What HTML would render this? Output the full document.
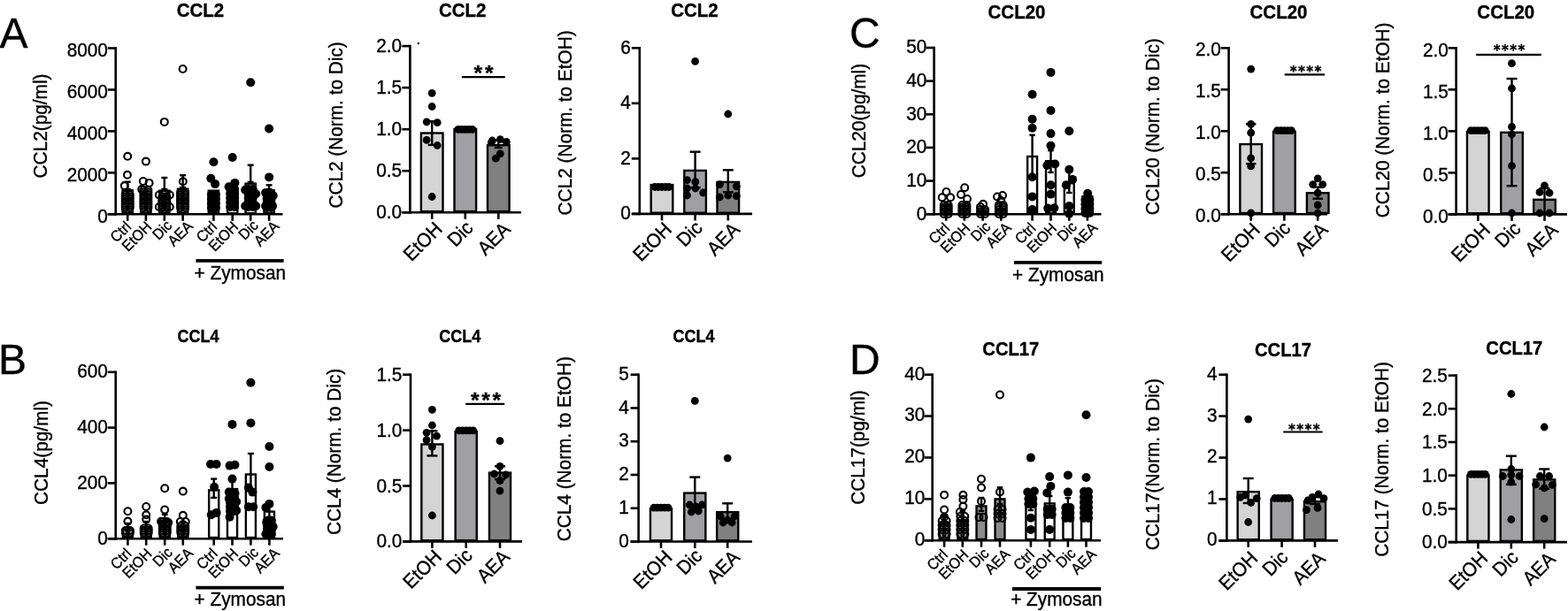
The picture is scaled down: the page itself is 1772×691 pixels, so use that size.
<!DOCTYPE html>
<html><head><meta charset="utf-8"><style>
html,body{margin:0;padding:0;background:#fff;}
svg{display:block;}
text{font-family:"Liberation Sans", Arial, Helvetica, sans-serif;fill:#000;stroke:#000;stroke-width:0.35px;}
</style></head><body>
<svg width="1772" height="691" viewBox="0 0 1772 691">
<rect width="1772" height="691" fill="#fff"/>
<text x="-0.50" y="54.00" font-size="48" text-anchor="start">A</text>
<text x="-2.00" y="422.50" font-size="48" text-anchor="start">B</text>
<text x="960.00" y="54.00" font-size="48" text-anchor="start">C</text>
<text x="960.00" y="422.50" font-size="48" text-anchor="start">D</text>
<line x1="130.70" y1="53.20" x2="130.70" y2="243.60" stroke="#000" stroke-width="2.6" stroke-linecap="butt"/>
<line x1="121.70" y1="242.30" x2="130.70" y2="242.30" stroke="#000" stroke-width="2.6" stroke-linecap="butt"/>
<text x="121.90" y="251.61" font-size="20.8" text-anchor="end" transform="translate(121.90 251.61) scale(1 1.07) translate(-121.90 -251.61)">0</text>
<line x1="121.70" y1="195.35" x2="130.70" y2="195.35" stroke="#000" stroke-width="2.6" stroke-linecap="butt"/>
<text x="121.90" y="204.66" font-size="20.8" text-anchor="end" transform="translate(121.90 204.66) scale(1 1.07) translate(-121.90 -204.66)">2000</text>
<line x1="121.70" y1="148.40" x2="130.70" y2="148.40" stroke="#000" stroke-width="2.6" stroke-linecap="butt"/>
<text x="121.90" y="157.71" font-size="20.8" text-anchor="end" transform="translate(121.90 157.71) scale(1 1.07) translate(-121.90 -157.71)">4000</text>
<line x1="121.70" y1="101.45" x2="130.70" y2="101.45" stroke="#000" stroke-width="2.6" stroke-linecap="butt"/>
<text x="121.90" y="110.76" font-size="20.8" text-anchor="end" transform="translate(121.90 110.76) scale(1 1.07) translate(-121.90 -110.76)">6000</text>
<line x1="121.70" y1="54.50" x2="130.70" y2="54.50" stroke="#000" stroke-width="2.6" stroke-linecap="butt"/>
<text x="121.90" y="63.81" font-size="20.8" text-anchor="end" transform="translate(121.90 63.81) scale(1 1.07) translate(-121.90 -63.81)">8000</text>
<rect x="138.55" y="215.30" width="11.30" height="25.80" fill="#9a9a9a" stroke="#000" stroke-width="2.4"/>
<rect x="159.25" y="220.10" width="11.30" height="21.00" fill="#9a9a9a" stroke="#000" stroke-width="2.4"/>
<rect x="180.15" y="215.70" width="11.30" height="25.40" fill="#9a9a9a" stroke="#000" stroke-width="2.4"/>
<rect x="200.95" y="213.70" width="11.30" height="27.40" fill="#9a9a9a" stroke="#000" stroke-width="2.4"/>
<rect x="235.75" y="215.70" width="11.30" height="25.40" fill="#fff" stroke="#000" stroke-width="2.4"/>
<rect x="257.05" y="217.20" width="11.30" height="23.90" fill="#fff" stroke="#000" stroke-width="2.4"/>
<rect x="277.55" y="207.70" width="11.30" height="33.40" fill="#fff" stroke="#000" stroke-width="2.4"/>
<rect x="298.45" y="215.30" width="11.30" height="25.80" fill="#fff" stroke="#000" stroke-width="2.4"/>
<line x1="144.20" y1="214.00" x2="144.20" y2="205.70" stroke="#000" stroke-width="2.4" stroke-linecap="butt"/>
<line x1="140.70" y1="205.70" x2="147.70" y2="205.70" stroke="#000" stroke-width="2.4" stroke-linecap="butt"/>
<line x1="140.70" y1="214.00" x2="147.70" y2="214.00" stroke="#000" stroke-width="2.4" stroke-linecap="butt"/>
<line x1="185.80" y1="214.00" x2="185.80" y2="201.00" stroke="#000" stroke-width="2.4" stroke-linecap="butt"/>
<line x1="182.30" y1="201.00" x2="189.30" y2="201.00" stroke="#000" stroke-width="2.4" stroke-linecap="butt"/>
<line x1="182.30" y1="214.00" x2="189.30" y2="214.00" stroke="#000" stroke-width="2.4" stroke-linecap="butt"/>
<line x1="206.60" y1="212.00" x2="206.60" y2="198.20" stroke="#000" stroke-width="2.4" stroke-linecap="butt"/>
<line x1="203.10" y1="198.20" x2="210.10" y2="198.20" stroke="#000" stroke-width="2.4" stroke-linecap="butt"/>
<line x1="203.10" y1="212.00" x2="210.10" y2="212.00" stroke="#000" stroke-width="2.4" stroke-linecap="butt"/>
<line x1="283.20" y1="206.00" x2="283.20" y2="186.70" stroke="#000" stroke-width="2.4" stroke-linecap="butt"/>
<line x1="279.70" y1="186.70" x2="286.70" y2="186.70" stroke="#000" stroke-width="2.4" stroke-linecap="butt"/>
<line x1="279.70" y1="206.00" x2="286.70" y2="206.00" stroke="#000" stroke-width="2.4" stroke-linecap="butt"/>
<line x1="304.10" y1="214.00" x2="304.10" y2="209.30" stroke="#000" stroke-width="2.4" stroke-linecap="butt"/>
<line x1="300.60" y1="209.30" x2="307.60" y2="209.30" stroke="#000" stroke-width="2.4" stroke-linecap="butt"/>
<line x1="300.60" y1="214.00" x2="307.60" y2="214.00" stroke="#000" stroke-width="2.4" stroke-linecap="butt"/>
<circle cx="141.70" cy="235.00" r="3.95" fill="none" stroke="#000" stroke-width="2.1"/>
<circle cx="146.70" cy="235.00" r="3.95" fill="none" stroke="#000" stroke-width="2.1"/>
<circle cx="141.70" cy="232.50" r="3.95" fill="none" stroke="#000" stroke-width="2.1"/>
<circle cx="146.70" cy="232.50" r="3.95" fill="none" stroke="#000" stroke-width="2.1"/>
<circle cx="141.70" cy="230.00" r="3.95" fill="none" stroke="#000" stroke-width="2.1"/>
<circle cx="146.70" cy="230.00" r="3.95" fill="none" stroke="#000" stroke-width="2.1"/>
<circle cx="141.70" cy="227.50" r="3.95" fill="none" stroke="#000" stroke-width="2.1"/>
<circle cx="146.70" cy="227.50" r="3.95" fill="none" stroke="#000" stroke-width="2.1"/>
<circle cx="141.70" cy="225.00" r="3.95" fill="none" stroke="#000" stroke-width="2.1"/>
<circle cx="146.70" cy="225.00" r="3.95" fill="none" stroke="#000" stroke-width="2.1"/>
<circle cx="141.70" cy="222.50" r="3.95" fill="none" stroke="#000" stroke-width="2.1"/>
<circle cx="146.70" cy="222.50" r="3.95" fill="none" stroke="#000" stroke-width="2.1"/>
<circle cx="141.70" cy="220.00" r="3.95" fill="none" stroke="#000" stroke-width="2.1"/>
<circle cx="146.70" cy="220.00" r="3.95" fill="none" stroke="#000" stroke-width="2.1"/>
<circle cx="144.20" cy="176.80" r="3.95" fill="none" stroke="#000" stroke-width="2.1"/>
<circle cx="143.90" cy="197.80" r="3.95" fill="none" stroke="#000" stroke-width="2.1"/>
<circle cx="140.80" cy="210.10" r="3.95" fill="none" stroke="#000" stroke-width="2.1"/>
<circle cx="162.40" cy="235.00" r="3.95" fill="none" stroke="#000" stroke-width="2.1"/>
<circle cx="167.40" cy="235.00" r="3.95" fill="none" stroke="#000" stroke-width="2.1"/>
<circle cx="162.40" cy="232.50" r="3.95" fill="none" stroke="#000" stroke-width="2.1"/>
<circle cx="167.40" cy="232.50" r="3.95" fill="none" stroke="#000" stroke-width="2.1"/>
<circle cx="162.40" cy="230.00" r="3.95" fill="none" stroke="#000" stroke-width="2.1"/>
<circle cx="167.40" cy="230.00" r="3.95" fill="none" stroke="#000" stroke-width="2.1"/>
<circle cx="162.40" cy="227.50" r="3.95" fill="none" stroke="#000" stroke-width="2.1"/>
<circle cx="167.40" cy="227.50" r="3.95" fill="none" stroke="#000" stroke-width="2.1"/>
<circle cx="162.40" cy="225.00" r="3.95" fill="none" stroke="#000" stroke-width="2.1"/>
<circle cx="167.40" cy="225.00" r="3.95" fill="none" stroke="#000" stroke-width="2.1"/>
<circle cx="162.40" cy="222.50" r="3.95" fill="none" stroke="#000" stroke-width="2.1"/>
<circle cx="167.40" cy="222.50" r="3.95" fill="none" stroke="#000" stroke-width="2.1"/>
<circle cx="162.40" cy="220.00" r="3.95" fill="none" stroke="#000" stroke-width="2.1"/>
<circle cx="167.40" cy="220.00" r="3.95" fill="none" stroke="#000" stroke-width="2.1"/>
<circle cx="162.40" cy="217.50" r="3.95" fill="none" stroke="#000" stroke-width="2.1"/>
<circle cx="167.40" cy="217.50" r="3.95" fill="none" stroke="#000" stroke-width="2.1"/>
<circle cx="162.40" cy="215.00" r="3.95" fill="none" stroke="#000" stroke-width="2.1"/>
<circle cx="167.40" cy="215.00" r="3.95" fill="none" stroke="#000" stroke-width="2.1"/>
<circle cx="164.90" cy="182.60" r="3.95" fill="none" stroke="#000" stroke-width="2.1"/>
<circle cx="161.80" cy="205.00" r="3.95" fill="none" stroke="#000" stroke-width="2.1"/>
<circle cx="168.60" cy="206.90" r="3.95" fill="none" stroke="#000" stroke-width="2.1"/>
<circle cx="160.20" cy="214.10" r="3.95" fill="none" stroke="#000" stroke-width="2.1"/>
<circle cx="183.30" cy="235.00" r="3.95" fill="none" stroke="#000" stroke-width="2.1"/>
<circle cx="188.30" cy="235.00" r="3.95" fill="none" stroke="#000" stroke-width="2.1"/>
<circle cx="183.30" cy="232.50" r="3.95" fill="none" stroke="#000" stroke-width="2.1"/>
<circle cx="188.30" cy="232.50" r="3.95" fill="none" stroke="#000" stroke-width="2.1"/>
<circle cx="183.30" cy="230.00" r="3.95" fill="none" stroke="#000" stroke-width="2.1"/>
<circle cx="188.30" cy="230.00" r="3.95" fill="none" stroke="#000" stroke-width="2.1"/>
<circle cx="183.30" cy="227.50" r="3.95" fill="none" stroke="#000" stroke-width="2.1"/>
<circle cx="188.30" cy="227.50" r="3.95" fill="none" stroke="#000" stroke-width="2.1"/>
<circle cx="183.30" cy="225.00" r="3.95" fill="none" stroke="#000" stroke-width="2.1"/>
<circle cx="188.30" cy="225.00" r="3.95" fill="none" stroke="#000" stroke-width="2.1"/>
<circle cx="183.30" cy="222.50" r="3.95" fill="none" stroke="#000" stroke-width="2.1"/>
<circle cx="188.30" cy="222.50" r="3.95" fill="none" stroke="#000" stroke-width="2.1"/>
<circle cx="185.80" cy="137.90" r="3.95" fill="none" stroke="#000" stroke-width="2.1"/>
<circle cx="179.80" cy="220.50" r="3.95" fill="none" stroke="#000" stroke-width="2.1"/>
<circle cx="191.80" cy="220.50" r="3.95" fill="none" stroke="#000" stroke-width="2.1"/>
<circle cx="179.80" cy="234.00" r="3.95" fill="none" stroke="#000" stroke-width="2.1"/>
<circle cx="191.80" cy="234.00" r="3.95" fill="none" stroke="#000" stroke-width="2.1"/>
<circle cx="204.10" cy="235.00" r="3.95" fill="none" stroke="#000" stroke-width="2.1"/>
<circle cx="209.10" cy="235.00" r="3.95" fill="none" stroke="#000" stroke-width="2.1"/>
<circle cx="204.10" cy="232.50" r="3.95" fill="none" stroke="#000" stroke-width="2.1"/>
<circle cx="209.10" cy="232.50" r="3.95" fill="none" stroke="#000" stroke-width="2.1"/>
<circle cx="204.10" cy="230.00" r="3.95" fill="none" stroke="#000" stroke-width="2.1"/>
<circle cx="209.10" cy="230.00" r="3.95" fill="none" stroke="#000" stroke-width="2.1"/>
<circle cx="204.10" cy="227.50" r="3.95" fill="none" stroke="#000" stroke-width="2.1"/>
<circle cx="209.10" cy="227.50" r="3.95" fill="none" stroke="#000" stroke-width="2.1"/>
<circle cx="204.10" cy="225.00" r="3.95" fill="none" stroke="#000" stroke-width="2.1"/>
<circle cx="209.10" cy="225.00" r="3.95" fill="none" stroke="#000" stroke-width="2.1"/>
<circle cx="204.10" cy="222.50" r="3.95" fill="none" stroke="#000" stroke-width="2.1"/>
<circle cx="209.10" cy="222.50" r="3.95" fill="none" stroke="#000" stroke-width="2.1"/>
<circle cx="204.10" cy="220.00" r="3.95" fill="none" stroke="#000" stroke-width="2.1"/>
<circle cx="209.10" cy="220.00" r="3.95" fill="none" stroke="#000" stroke-width="2.1"/>
<circle cx="204.10" cy="217.50" r="3.95" fill="none" stroke="#000" stroke-width="2.1"/>
<circle cx="209.10" cy="217.50" r="3.95" fill="none" stroke="#000" stroke-width="2.1"/>
<circle cx="206.60" cy="78.00" r="3.95" fill="none" stroke="#000" stroke-width="2.1"/>
<circle cx="206.80" cy="205.30" r="3.95" fill="none" stroke="#000" stroke-width="2.1"/>
<circle cx="238.90" cy="235.00" r="5.0" fill="#000"/>
<circle cx="243.90" cy="235.00" r="5.0" fill="#000"/>
<circle cx="238.90" cy="230.00" r="5.0" fill="#000"/>
<circle cx="243.90" cy="230.00" r="5.0" fill="#000"/>
<circle cx="238.90" cy="225.00" r="5.0" fill="#000"/>
<circle cx="243.90" cy="225.00" r="5.0" fill="#000"/>
<circle cx="238.90" cy="220.00" r="5.0" fill="#000"/>
<circle cx="243.90" cy="220.00" r="5.0" fill="#000"/>
<circle cx="241.40" cy="183.20" r="5.0" fill="#000"/>
<circle cx="238.30" cy="201.80" r="5.0" fill="#000"/>
<circle cx="243.10" cy="208.10" r="5.0" fill="#000"/>
<circle cx="241.40" cy="236.00" r="5.0" fill="#000"/>
<circle cx="260.20" cy="234.00" r="5.0" fill="#000"/>
<circle cx="265.20" cy="234.00" r="5.0" fill="#000"/>
<circle cx="260.20" cy="229.00" r="5.0" fill="#000"/>
<circle cx="265.20" cy="229.00" r="5.0" fill="#000"/>
<circle cx="260.20" cy="224.00" r="5.0" fill="#000"/>
<circle cx="265.20" cy="224.00" r="5.0" fill="#000"/>
<circle cx="260.20" cy="219.00" r="5.0" fill="#000"/>
<circle cx="265.20" cy="219.00" r="5.0" fill="#000"/>
<circle cx="260.20" cy="214.00" r="5.0" fill="#000"/>
<circle cx="265.20" cy="214.00" r="5.0" fill="#000"/>
<circle cx="262.70" cy="178.00" r="5.0" fill="#000"/>
<circle cx="265.40" cy="206.90" r="5.0" fill="#000"/>
<circle cx="258.60" cy="211.30" r="5.0" fill="#000"/>
<circle cx="280.70" cy="234.00" r="5.0" fill="#000"/>
<circle cx="285.70" cy="234.00" r="5.0" fill="#000"/>
<circle cx="280.70" cy="229.00" r="5.0" fill="#000"/>
<circle cx="285.70" cy="229.00" r="5.0" fill="#000"/>
<circle cx="280.70" cy="224.00" r="5.0" fill="#000"/>
<circle cx="285.70" cy="224.00" r="5.0" fill="#000"/>
<circle cx="280.70" cy="219.00" r="5.0" fill="#000"/>
<circle cx="285.70" cy="219.00" r="5.0" fill="#000"/>
<circle cx="280.70" cy="214.00" r="5.0" fill="#000"/>
<circle cx="285.70" cy="214.00" r="5.0" fill="#000"/>
<circle cx="283.20" cy="93.20" r="5.0" fill="#000"/>
<circle cx="277.20" cy="214.70" r="5.0" fill="#000"/>
<circle cx="289.20" cy="219.30" r="5.0" fill="#000"/>
<circle cx="277.20" cy="233.00" r="5.0" fill="#000"/>
<circle cx="289.20" cy="233.00" r="5.0" fill="#000"/>
<circle cx="301.60" cy="235.00" r="5.0" fill="#000"/>
<circle cx="306.60" cy="235.00" r="5.0" fill="#000"/>
<circle cx="301.60" cy="230.00" r="5.0" fill="#000"/>
<circle cx="306.60" cy="230.00" r="5.0" fill="#000"/>
<circle cx="301.60" cy="225.00" r="5.0" fill="#000"/>
<circle cx="306.60" cy="225.00" r="5.0" fill="#000"/>
<circle cx="301.60" cy="220.00" r="5.0" fill="#000"/>
<circle cx="306.60" cy="220.00" r="5.0" fill="#000"/>
<circle cx="304.10" cy="145.50" r="5.0" fill="#000"/>
<circle cx="304.10" cy="200.40" r="5.0" fill="#000"/>
<circle cx="300.10" cy="218.00" r="5.0" fill="#000"/>
<circle cx="308.70" cy="221.20" r="5.0" fill="#000"/>
<circle cx="300.10" cy="233.00" r="5.0" fill="#000"/>
<circle cx="308.10" cy="233.00" r="5.0" fill="#000"/>
<line x1="121.70" y1="242.30" x2="319.50" y2="242.30" stroke="#000" stroke-width="2.6" stroke-linecap="butt"/>
<line x1="144.20" y1="242.30" x2="144.20" y2="249.80" stroke="#000" stroke-width="2.6" stroke-linecap="butt"/>
<line x1="164.90" y1="242.30" x2="164.90" y2="249.80" stroke="#000" stroke-width="2.6" stroke-linecap="butt"/>
<line x1="185.80" y1="242.30" x2="185.80" y2="249.80" stroke="#000" stroke-width="2.6" stroke-linecap="butt"/>
<line x1="206.60" y1="242.30" x2="206.60" y2="249.80" stroke="#000" stroke-width="2.6" stroke-linecap="butt"/>
<line x1="241.40" y1="242.30" x2="241.40" y2="249.80" stroke="#000" stroke-width="2.6" stroke-linecap="butt"/>
<line x1="262.70" y1="242.30" x2="262.70" y2="249.80" stroke="#000" stroke-width="2.6" stroke-linecap="butt"/>
<line x1="283.20" y1="242.30" x2="283.20" y2="249.80" stroke="#000" stroke-width="2.6" stroke-linecap="butt"/>
<line x1="304.10" y1="242.30" x2="304.10" y2="249.80" stroke="#000" stroke-width="2.6" stroke-linecap="butt"/>
<text x="149.20" y="257.50" font-size="16" text-anchor="end" transform="translate(149.20 257.50) rotate(-45) scale(1 1.07) translate(-149.20 -257.50)">Ctrl</text>
<text x="172.50" y="257.60" font-size="16" text-anchor="end" transform="translate(172.50 257.60) rotate(-45) scale(1 1.07) translate(-172.50 -257.60)">EtOH</text>
<text x="195.50" y="256.00" font-size="16" text-anchor="end" transform="translate(195.50 256.00) rotate(-45) scale(1 1.07) translate(-195.50 -256.00)">Dic</text>
<text x="219.10" y="256.90" font-size="16" text-anchor="end" transform="translate(219.10 256.90) rotate(-45) scale(1 1.07) translate(-219.10 -256.90)">AEA</text>
<text x="246.40" y="257.50" font-size="16" text-anchor="end" transform="translate(246.40 257.50) rotate(-45) scale(1 1.07) translate(-246.40 -257.50)">Ctrl</text>
<text x="270.30" y="257.60" font-size="16" text-anchor="end" transform="translate(270.30 257.60) rotate(-45) scale(1 1.07) translate(-270.30 -257.60)">EtOH</text>
<text x="292.90" y="256.00" font-size="16" text-anchor="end" transform="translate(292.90 256.00) rotate(-45) scale(1 1.07) translate(-292.90 -256.00)">Dic</text>
<text x="316.60" y="256.90" font-size="16" text-anchor="end" transform="translate(316.60 256.90) rotate(-45) scale(1 1.07) translate(-316.60 -256.90)">AEA</text>
<line x1="221.40" y1="294.80" x2="320.60" y2="294.80" stroke="#000" stroke-width="3.8" stroke-linecap="butt"/>
<text x="219.60" y="316.00" font-size="20.8" text-anchor="start" transform="translate(219.60 316.00) scale(1 1.07) translate(-219.60 -316.00)">+ Zymosan</text>
<text x="53.20" y="142.50" font-size="20.8" text-anchor="middle" transform="translate(53.20 142.50) rotate(-90) scale(1 1.07) translate(-53.20 -142.50)">CCL2(pg/ml)</text>
<text x="226.50" y="19.20" font-size="20.5" text-anchor="middle" font-weight="bold" transform="translate(226.50 19.20) scale(1 1.1) translate(-226.50 -19.20)">CCL2</text>
<line x1="463.40" y1="50.80" x2="463.40" y2="241.60" stroke="#000" stroke-width="2.6" stroke-linecap="butt"/>
<line x1="454.40" y1="240.30" x2="463.40" y2="240.30" stroke="#000" stroke-width="2.6" stroke-linecap="butt"/>
<text x="454.20" y="247.31" font-size="20.8" text-anchor="end" transform="translate(454.20 247.31) scale(1 1.07) translate(-454.20 -247.31)">0.0</text>
<line x1="454.40" y1="193.25" x2="463.40" y2="193.25" stroke="#000" stroke-width="2.6" stroke-linecap="butt"/>
<text x="454.20" y="200.26" font-size="20.8" text-anchor="end" transform="translate(454.20 200.26) scale(1 1.07) translate(-454.20 -200.26)">0.5</text>
<line x1="454.40" y1="146.20" x2="463.40" y2="146.20" stroke="#000" stroke-width="2.6" stroke-linecap="butt"/>
<text x="454.20" y="153.21" font-size="20.8" text-anchor="end" transform="translate(454.20 153.21) scale(1 1.07) translate(-454.20 -153.21)">1.0</text>
<line x1="454.40" y1="99.15" x2="463.40" y2="99.15" stroke="#000" stroke-width="2.6" stroke-linecap="butt"/>
<text x="454.20" y="106.16" font-size="20.8" text-anchor="end" transform="translate(454.20 106.16) scale(1 1.07) translate(-454.20 -106.16)">1.5</text>
<line x1="454.40" y1="52.10" x2="463.40" y2="52.10" stroke="#000" stroke-width="2.6" stroke-linecap="butt"/>
<text x="454.20" y="59.11" font-size="20.8" text-anchor="end" transform="translate(454.20 59.11) scale(1 1.07) translate(-454.20 -59.11)">2.0</text>
<rect x="475.90" y="150.50" width="24.60" height="88.60" fill="#d4d4d4" stroke="#000" stroke-width="2.4"/>
<rect x="513.50" y="146.00" width="24.60" height="93.10" fill="#a09fa4" stroke="#000" stroke-width="2.4"/>
<rect x="551.00" y="164.20" width="24.60" height="74.90" fill="#808080" stroke="#000" stroke-width="2.4"/>
<line x1="488.20" y1="163.90" x2="488.20" y2="137.20" stroke="#000" stroke-width="2.4" stroke-linecap="butt"/>
<line x1="483.70" y1="137.20" x2="492.70" y2="137.20" stroke="#000" stroke-width="2.4" stroke-linecap="butt"/>
<line x1="483.70" y1="163.90" x2="492.70" y2="163.90" stroke="#000" stroke-width="2.4" stroke-linecap="butt"/>
<line x1="563.30" y1="167.00" x2="563.30" y2="158.50" stroke="#000" stroke-width="2.4" stroke-linecap="butt"/>
<line x1="558.80" y1="158.50" x2="567.80" y2="158.50" stroke="#000" stroke-width="2.4" stroke-linecap="butt"/>
<line x1="558.80" y1="167.00" x2="567.80" y2="167.00" stroke="#000" stroke-width="2.4" stroke-linecap="butt"/>
<circle cx="488.20" cy="105.30" r="4.4" fill="#000"/>
<circle cx="488.20" cy="120.50" r="4.4" fill="#000"/>
<circle cx="482.20" cy="137.80" r="4.4" fill="#000"/>
<circle cx="494.20" cy="138.70" r="4.4" fill="#000"/>
<circle cx="482.20" cy="158.40" r="4.4" fill="#000"/>
<circle cx="494.20" cy="164.50" r="4.4" fill="#000"/>
<circle cx="488.20" cy="222.50" r="4.4" fill="#000"/>
<circle cx="517.80" cy="146.30" r="4.4" fill="#000"/>
<circle cx="521.80" cy="146.30" r="4.4" fill="#000"/>
<circle cx="525.80" cy="146.30" r="4.4" fill="#000"/>
<circle cx="529.80" cy="146.30" r="4.4" fill="#000"/>
<circle cx="533.80" cy="146.30" r="4.4" fill="#000"/>
<circle cx="556.30" cy="159.00" r="4.4" fill="#000"/>
<circle cx="565.30" cy="157.70" r="4.4" fill="#000"/>
<circle cx="572.30" cy="160.40" r="4.4" fill="#000"/>
<circle cx="555.30" cy="161.00" r="4.4" fill="#000"/>
<circle cx="565.30" cy="173.80" r="4.4" fill="#000"/>
<circle cx="560.30" cy="179.20" r="4.4" fill="#000"/>
<line x1="454.40" y1="240.30" x2="589.00" y2="240.30" stroke="#000" stroke-width="2.6" stroke-linecap="butt"/>
<line x1="488.20" y1="240.30" x2="488.20" y2="247.80" stroke="#000" stroke-width="2.6" stroke-linecap="butt"/>
<line x1="525.80" y1="240.30" x2="525.80" y2="247.80" stroke="#000" stroke-width="2.6" stroke-linecap="butt"/>
<line x1="563.30" y1="240.30" x2="563.30" y2="247.80" stroke="#000" stroke-width="2.6" stroke-linecap="butt"/>
<text x="501.00" y="260.50" font-size="20.8" text-anchor="end" transform="translate(501.00 260.50) rotate(-45) scale(1 1.07) translate(-501.00 -260.50)">EtOH</text>
<text x="536.00" y="259.10" font-size="20.8" text-anchor="end" transform="translate(536.00 259.10) rotate(-45) scale(1 1.07) translate(-536.00 -259.10)">Dic</text>
<text x="578.10" y="260.70" font-size="20.8" text-anchor="end" transform="translate(578.10 260.70) rotate(-45) scale(1 1.07) translate(-578.10 -260.70)">AEA</text>
<text x="386.80" y="141.40" font-size="20.8" text-anchor="middle" transform="translate(386.80 141.40) rotate(-90) scale(1 1.07) translate(-386.80 -141.40)">CCL2 (Norm. to Dic)</text>
<text x="522.70" y="19.30" font-size="20.5" text-anchor="middle" font-weight="bold" transform="translate(522.70 19.30) scale(1 1.1) translate(-522.70 -19.30)">CCL2</text>
<line x1="522.80" y1="87.20" x2="569.90" y2="87.20" stroke="#000" stroke-width="2.2" stroke-linecap="round"/>
<text x="535.62" y="90.60" font-size="24.6" letter-spacing="2.93" font-weight="bold">**</text>
<circle cx="472.80" cy="49.00" r="1.2" fill="#000"/>
<line x1="722.80" y1="53.00" x2="722.80" y2="243.20" stroke="#000" stroke-width="2.6" stroke-linecap="butt"/>
<line x1="713.80" y1="241.90" x2="722.80" y2="241.90" stroke="#000" stroke-width="2.6" stroke-linecap="butt"/>
<text x="712.90" y="248.11" font-size="20.8" text-anchor="end" transform="translate(712.90 248.11) scale(1 1.07) translate(-712.90 -248.11)">0</text>
<line x1="713.80" y1="179.37" x2="722.80" y2="179.37" stroke="#000" stroke-width="2.6" stroke-linecap="butt"/>
<text x="712.90" y="185.57" font-size="20.8" text-anchor="end" transform="translate(712.90 185.57) scale(1 1.07) translate(-712.90 -185.57)">2</text>
<line x1="713.80" y1="116.83" x2="722.80" y2="116.83" stroke="#000" stroke-width="2.6" stroke-linecap="butt"/>
<text x="712.90" y="123.04" font-size="20.8" text-anchor="end" transform="translate(712.90 123.04) scale(1 1.07) translate(-712.90 -123.04)">4</text>
<line x1="713.80" y1="54.30" x2="722.80" y2="54.30" stroke="#000" stroke-width="2.6" stroke-linecap="butt"/>
<text x="712.90" y="60.51" font-size="20.8" text-anchor="end" transform="translate(712.90 60.51) scale(1 1.07) translate(-712.90 -60.51)">6</text>
<rect x="735.70" y="209.10" width="24.60" height="31.60" fill="#d4d4d4" stroke="#000" stroke-width="2.4"/>
<rect x="773.30" y="192.90" width="24.60" height="47.80" fill="#a09fa4" stroke="#000" stroke-width="2.4"/>
<rect x="810.50" y="205.90" width="24.60" height="34.80" fill="#808080" stroke="#000" stroke-width="2.4"/>
<line x1="785.60" y1="212.20" x2="785.60" y2="171.70" stroke="#000" stroke-width="2.4" stroke-linecap="butt"/>
<line x1="779.60" y1="171.70" x2="791.60" y2="171.70" stroke="#000" stroke-width="2.4" stroke-linecap="butt"/>
<line x1="779.60" y1="212.20" x2="791.60" y2="212.20" stroke="#000" stroke-width="2.4" stroke-linecap="butt"/>
<line x1="822.80" y1="217.30" x2="822.80" y2="192.30" stroke="#000" stroke-width="2.4" stroke-linecap="butt"/>
<line x1="816.80" y1="192.30" x2="828.80" y2="192.30" stroke="#000" stroke-width="2.4" stroke-linecap="butt"/>
<line x1="816.80" y1="217.30" x2="828.80" y2="217.30" stroke="#000" stroke-width="2.4" stroke-linecap="butt"/>
<circle cx="740.00" cy="211.50" r="4.4" fill="#000"/>
<circle cx="744.00" cy="211.50" r="4.4" fill="#000"/>
<circle cx="748.00" cy="211.50" r="4.4" fill="#000"/>
<circle cx="752.00" cy="211.50" r="4.4" fill="#000"/>
<circle cx="756.00" cy="211.50" r="4.4" fill="#000"/>
<circle cx="785.60" cy="69.40" r="4.4" fill="#000"/>
<circle cx="776.50" cy="203.60" r="4.4" fill="#000"/>
<circle cx="785.90" cy="205.70" r="4.4" fill="#000"/>
<circle cx="776.50" cy="213.00" r="4.4" fill="#000"/>
<circle cx="785.90" cy="213.00" r="4.4" fill="#000"/>
<circle cx="776.50" cy="221.00" r="4.4" fill="#000"/>
<circle cx="794.60" cy="218.00" r="4.4" fill="#000"/>
<circle cx="822.80" cy="129.00" r="4.4" fill="#000"/>
<circle cx="813.40" cy="208.60" r="4.4" fill="#000"/>
<circle cx="832.30" cy="210.80" r="4.4" fill="#000"/>
<circle cx="813.40" cy="223.00" r="4.4" fill="#000"/>
<circle cx="822.80" cy="221.00" r="4.4" fill="#000"/>
<circle cx="832.30" cy="221.70" r="4.4" fill="#000"/>
<line x1="713.80" y1="241.90" x2="850.00" y2="241.90" stroke="#000" stroke-width="2.6" stroke-linecap="butt"/>
<line x1="748.00" y1="241.90" x2="748.00" y2="249.40" stroke="#000" stroke-width="2.6" stroke-linecap="butt"/>
<line x1="785.60" y1="241.90" x2="785.60" y2="249.40" stroke="#000" stroke-width="2.6" stroke-linecap="butt"/>
<line x1="822.80" y1="241.90" x2="822.80" y2="249.40" stroke="#000" stroke-width="2.6" stroke-linecap="butt"/>
<text x="760.50" y="260.90" font-size="20.8" text-anchor="end" transform="translate(760.50 260.90) rotate(-45) scale(1 1.07) translate(-760.50 -260.90)">EtOH</text>
<text x="795.00" y="259.10" font-size="20.8" text-anchor="end" transform="translate(795.00 259.10) rotate(-45) scale(1 1.07) translate(-795.00 -259.10)">Dic</text>
<text x="837.35" y="261.00" font-size="20.8" text-anchor="end" transform="translate(837.35 261.00) rotate(-45) scale(1 1.07) translate(-837.35 -261.00)">AEA</text>
<text x="646.00" y="138.90" font-size="20.8" text-anchor="middle" transform="translate(646.00 138.90) rotate(-90) scale(1 1.07) translate(-646.00 -138.90)">CCL2 (Norm. to EtOH)</text>
<text x="785.00" y="19.30" font-size="20.5" text-anchor="middle" font-weight="bold" transform="translate(785.00 19.30) scale(1 1.1) translate(-785.00 -19.30)">CCL2</text>
<line x1="1055.60" y1="52.70" x2="1055.60" y2="243.50" stroke="#000" stroke-width="2.6" stroke-linecap="butt"/>
<line x1="1046.60" y1="242.20" x2="1055.60" y2="242.20" stroke="#000" stroke-width="2.6" stroke-linecap="butt"/>
<text x="1047.30" y="248.66" font-size="20.8" text-anchor="end" transform="translate(1047.30 248.66) scale(1 1.07) translate(-1047.30 -248.66)">0</text>
<line x1="1046.60" y1="204.56" x2="1055.60" y2="204.56" stroke="#000" stroke-width="2.6" stroke-linecap="butt"/>
<text x="1047.30" y="211.02" font-size="20.8" text-anchor="end" transform="translate(1047.30 211.02) scale(1 1.07) translate(-1047.30 -211.02)">10</text>
<line x1="1046.60" y1="166.92" x2="1055.60" y2="166.92" stroke="#000" stroke-width="2.6" stroke-linecap="butt"/>
<text x="1047.30" y="173.38" font-size="20.8" text-anchor="end" transform="translate(1047.30 173.38) scale(1 1.07) translate(-1047.30 -173.38)">20</text>
<line x1="1046.60" y1="129.28" x2="1055.60" y2="129.28" stroke="#000" stroke-width="2.6" stroke-linecap="butt"/>
<text x="1047.30" y="135.74" font-size="20.8" text-anchor="end" transform="translate(1047.30 135.74) scale(1 1.07) translate(-1047.30 -135.74)">30</text>
<line x1="1046.60" y1="91.64" x2="1055.60" y2="91.64" stroke="#000" stroke-width="2.6" stroke-linecap="butt"/>
<text x="1047.30" y="98.10" font-size="20.8" text-anchor="end" transform="translate(1047.30 98.10) scale(1 1.07) translate(-1047.30 -98.10)">40</text>
<line x1="1046.60" y1="54.00" x2="1055.60" y2="54.00" stroke="#000" stroke-width="2.6" stroke-linecap="butt"/>
<text x="1047.30" y="60.46" font-size="20.8" text-anchor="end" transform="translate(1047.30 60.46) scale(1 1.07) translate(-1047.30 -60.46)">50</text>
<rect x="1063.75" y="232.00" width="10.90" height="9.00" fill="#9a9a9a" stroke="#000" stroke-width="2.4"/>
<rect x="1084.45" y="233.00" width="10.90" height="8.00" fill="#9a9a9a" stroke="#000" stroke-width="2.4"/>
<rect x="1105.15" y="238.80" width="10.90" height="2.20" fill="#9a9a9a" stroke="#000" stroke-width="2.4"/>
<rect x="1125.85" y="236.30" width="10.90" height="4.70" fill="#9a9a9a" stroke="#000" stroke-width="2.4"/>
<rect x="1161.15" y="177.00" width="10.90" height="64.00" fill="#fff" stroke="#000" stroke-width="2.4"/>
<rect x="1182.05" y="182.20" width="10.90" height="58.80" fill="#fff" stroke="#000" stroke-width="2.4"/>
<rect x="1202.85" y="207.20" width="10.90" height="33.80" fill="#fff" stroke="#000" stroke-width="2.4"/>
<rect x="1223.45" y="222.20" width="10.90" height="18.80" fill="#fff" stroke="#000" stroke-width="2.4"/>
<line x1="1166.60" y1="198.90" x2="1166.60" y2="152.70" stroke="#000" stroke-width="2.4" stroke-linecap="butt"/>
<line x1="1163.40" y1="152.70" x2="1169.80" y2="152.70" stroke="#000" stroke-width="2.4" stroke-linecap="butt"/>
<line x1="1163.40" y1="198.90" x2="1169.80" y2="198.90" stroke="#000" stroke-width="2.4" stroke-linecap="butt"/>
<line x1="1187.50" y1="194.90" x2="1187.50" y2="170.20" stroke="#000" stroke-width="2.4" stroke-linecap="butt"/>
<line x1="1184.30" y1="170.20" x2="1190.70" y2="170.20" stroke="#000" stroke-width="2.4" stroke-linecap="butt"/>
<line x1="1184.30" y1="194.90" x2="1190.70" y2="194.90" stroke="#000" stroke-width="2.4" stroke-linecap="butt"/>
<line x1="1208.30" y1="218.00" x2="1208.30" y2="194.00" stroke="#000" stroke-width="2.4" stroke-linecap="butt"/>
<line x1="1205.10" y1="194.00" x2="1211.50" y2="194.00" stroke="#000" stroke-width="2.4" stroke-linecap="butt"/>
<line x1="1205.10" y1="218.00" x2="1211.50" y2="218.00" stroke="#000" stroke-width="2.4" stroke-linecap="butt"/>
<circle cx="1066.70" cy="242.00" r="3.95" fill="none" stroke="#000" stroke-width="2.1"/>
<circle cx="1071.70" cy="242.00" r="3.95" fill="none" stroke="#000" stroke-width="2.1"/>
<circle cx="1066.70" cy="239.50" r="3.95" fill="none" stroke="#000" stroke-width="2.1"/>
<circle cx="1071.70" cy="239.50" r="3.95" fill="none" stroke="#000" stroke-width="2.1"/>
<circle cx="1066.70" cy="237.00" r="3.95" fill="none" stroke="#000" stroke-width="2.1"/>
<circle cx="1071.70" cy="237.00" r="3.95" fill="none" stroke="#000" stroke-width="2.1"/>
<circle cx="1066.70" cy="234.50" r="3.95" fill="none" stroke="#000" stroke-width="2.1"/>
<circle cx="1071.70" cy="234.50" r="3.95" fill="none" stroke="#000" stroke-width="2.1"/>
<circle cx="1066.70" cy="232.00" r="3.95" fill="none" stroke="#000" stroke-width="2.1"/>
<circle cx="1071.70" cy="232.00" r="3.95" fill="none" stroke="#000" stroke-width="2.1"/>
<circle cx="1069.40" cy="217.00" r="3.95" fill="none" stroke="#000" stroke-width="2.1"/>
<circle cx="1064.70" cy="223.20" r="3.95" fill="none" stroke="#000" stroke-width="2.1"/>
<circle cx="1074.10" cy="223.20" r="3.95" fill="none" stroke="#000" stroke-width="2.1"/>
<circle cx="1087.40" cy="242.00" r="3.95" fill="none" stroke="#000" stroke-width="2.1"/>
<circle cx="1092.40" cy="242.00" r="3.95" fill="none" stroke="#000" stroke-width="2.1"/>
<circle cx="1087.40" cy="239.50" r="3.95" fill="none" stroke="#000" stroke-width="2.1"/>
<circle cx="1092.40" cy="239.50" r="3.95" fill="none" stroke="#000" stroke-width="2.1"/>
<circle cx="1087.40" cy="237.00" r="3.95" fill="none" stroke="#000" stroke-width="2.1"/>
<circle cx="1092.40" cy="237.00" r="3.95" fill="none" stroke="#000" stroke-width="2.1"/>
<circle cx="1087.40" cy="234.50" r="3.95" fill="none" stroke="#000" stroke-width="2.1"/>
<circle cx="1092.40" cy="234.50" r="3.95" fill="none" stroke="#000" stroke-width="2.1"/>
<circle cx="1087.40" cy="232.00" r="3.95" fill="none" stroke="#000" stroke-width="2.1"/>
<circle cx="1092.40" cy="232.00" r="3.95" fill="none" stroke="#000" stroke-width="2.1"/>
<circle cx="1090.20" cy="212.20" r="3.95" fill="none" stroke="#000" stroke-width="2.1"/>
<circle cx="1086.00" cy="220.00" r="3.95" fill="none" stroke="#000" stroke-width="2.1"/>
<circle cx="1093.00" cy="225.00" r="3.95" fill="none" stroke="#000" stroke-width="2.1"/>
<circle cx="1108.10" cy="242.00" r="3.95" fill="none" stroke="#000" stroke-width="2.1"/>
<circle cx="1113.10" cy="242.00" r="3.95" fill="none" stroke="#000" stroke-width="2.1"/>
<circle cx="1108.10" cy="239.50" r="3.95" fill="none" stroke="#000" stroke-width="2.1"/>
<circle cx="1113.10" cy="239.50" r="3.95" fill="none" stroke="#000" stroke-width="2.1"/>
<circle cx="1108.10" cy="237.00" r="3.95" fill="none" stroke="#000" stroke-width="2.1"/>
<circle cx="1113.10" cy="237.00" r="3.95" fill="none" stroke="#000" stroke-width="2.1"/>
<circle cx="1111.00" cy="230.80" r="3.95" fill="none" stroke="#000" stroke-width="2.1"/>
<circle cx="1108.00" cy="234.00" r="3.95" fill="none" stroke="#000" stroke-width="2.1"/>
<circle cx="1128.80" cy="242.00" r="3.95" fill="none" stroke="#000" stroke-width="2.1"/>
<circle cx="1133.80" cy="242.00" r="3.95" fill="none" stroke="#000" stroke-width="2.1"/>
<circle cx="1128.80" cy="239.50" r="3.95" fill="none" stroke="#000" stroke-width="2.1"/>
<circle cx="1133.80" cy="239.50" r="3.95" fill="none" stroke="#000" stroke-width="2.1"/>
<circle cx="1128.80" cy="237.00" r="3.95" fill="none" stroke="#000" stroke-width="2.1"/>
<circle cx="1133.80" cy="237.00" r="3.95" fill="none" stroke="#000" stroke-width="2.1"/>
<circle cx="1128.80" cy="234.50" r="3.95" fill="none" stroke="#000" stroke-width="2.1"/>
<circle cx="1133.80" cy="234.50" r="3.95" fill="none" stroke="#000" stroke-width="2.1"/>
<circle cx="1128.80" cy="232.00" r="3.95" fill="none" stroke="#000" stroke-width="2.1"/>
<circle cx="1133.80" cy="232.00" r="3.95" fill="none" stroke="#000" stroke-width="2.1"/>
<circle cx="1133.00" cy="221.00" r="3.95" fill="none" stroke="#000" stroke-width="2.1"/>
<circle cx="1127.00" cy="222.50" r="3.95" fill="none" stroke="#000" stroke-width="2.1"/>
<circle cx="1131.30" cy="227.00" r="3.95" fill="none" stroke="#000" stroke-width="2.1"/>
<circle cx="1166.60" cy="106.80" r="5.0" fill="#000"/>
<circle cx="1166.60" cy="134.80" r="5.0" fill="#000"/>
<circle cx="1166.60" cy="144.80" r="5.0" fill="#000"/>
<circle cx="1166.60" cy="200.20" r="5.0" fill="#000"/>
<circle cx="1166.60" cy="222.40" r="5.0" fill="#000"/>
<circle cx="1166.60" cy="237.10" r="5.0" fill="#000"/>
<circle cx="1187.50" cy="81.90" r="5.0" fill="#000"/>
<circle cx="1187.50" cy="125.00" r="5.0" fill="#000"/>
<circle cx="1187.50" cy="151.10" r="5.0" fill="#000"/>
<circle cx="1187.50" cy="164.70" r="5.0" fill="#000"/>
<circle cx="1183.40" cy="187.00" r="5.0" fill="#000"/>
<circle cx="1192.20" cy="185.40" r="5.0" fill="#000"/>
<circle cx="1187.50" cy="209.20" r="5.0" fill="#000"/>
<circle cx="1187.50" cy="219.60" r="5.0" fill="#000"/>
<circle cx="1184.20" cy="235.50" r="5.0" fill="#000"/>
<circle cx="1191.40" cy="235.20" r="5.0" fill="#000"/>
<circle cx="1208.30" cy="148.30" r="5.0" fill="#000"/>
<circle cx="1208.30" cy="191.70" r="5.0" fill="#000"/>
<circle cx="1204.90" cy="209.20" r="5.0" fill="#000"/>
<circle cx="1212.10" cy="202.90" r="5.0" fill="#000"/>
<circle cx="1208.30" cy="233.10" r="5.0" fill="#000"/>
<circle cx="1208.30" cy="241.80" r="5.0" fill="#000"/>
<circle cx="1226.40" cy="241.00" r="5.0" fill="#000"/>
<circle cx="1231.40" cy="241.00" r="5.0" fill="#000"/>
<circle cx="1226.40" cy="236.00" r="5.0" fill="#000"/>
<circle cx="1231.40" cy="236.00" r="5.0" fill="#000"/>
<circle cx="1226.40" cy="231.00" r="5.0" fill="#000"/>
<circle cx="1231.40" cy="231.00" r="5.0" fill="#000"/>
<circle cx="1226.40" cy="226.00" r="5.0" fill="#000"/>
<circle cx="1231.40" cy="226.00" r="5.0" fill="#000"/>
<circle cx="1229.20" cy="218.80" r="5.0" fill="#000"/>
<line x1="1046.60" y1="242.20" x2="1244.50" y2="242.20" stroke="#000" stroke-width="2.6" stroke-linecap="butt"/>
<line x1="1069.20" y1="242.20" x2="1069.20" y2="249.70" stroke="#000" stroke-width="2.6" stroke-linecap="butt"/>
<line x1="1089.90" y1="242.20" x2="1089.90" y2="249.70" stroke="#000" stroke-width="2.6" stroke-linecap="butt"/>
<line x1="1110.60" y1="242.20" x2="1110.60" y2="249.70" stroke="#000" stroke-width="2.6" stroke-linecap="butt"/>
<line x1="1131.30" y1="242.20" x2="1131.30" y2="249.70" stroke="#000" stroke-width="2.6" stroke-linecap="butt"/>
<line x1="1166.60" y1="242.20" x2="1166.60" y2="249.70" stroke="#000" stroke-width="2.6" stroke-linecap="butt"/>
<line x1="1187.50" y1="242.20" x2="1187.50" y2="249.70" stroke="#000" stroke-width="2.6" stroke-linecap="butt"/>
<line x1="1208.30" y1="242.20" x2="1208.30" y2="249.70" stroke="#000" stroke-width="2.6" stroke-linecap="butt"/>
<line x1="1228.90" y1="242.20" x2="1228.90" y2="249.70" stroke="#000" stroke-width="2.6" stroke-linecap="butt"/>
<text x="1074.20" y="259.20" font-size="16" text-anchor="end" transform="translate(1074.20 259.20) rotate(-45) scale(1 1.07) translate(-1074.20 -259.20)">Ctrl</text>
<text x="1097.50" y="259.30" font-size="16" text-anchor="end" transform="translate(1097.50 259.30) rotate(-45) scale(1 1.07) translate(-1097.50 -259.30)">EtOH</text>
<text x="1120.30" y="257.70" font-size="16" text-anchor="end" transform="translate(1120.30 257.70) rotate(-45) scale(1 1.07) translate(-1120.30 -257.70)">Dic</text>
<text x="1143.80" y="258.60" font-size="16" text-anchor="end" transform="translate(1143.80 258.60) rotate(-45) scale(1 1.07) translate(-1143.80 -258.60)">AEA</text>
<text x="1171.60" y="259.20" font-size="16" text-anchor="end" transform="translate(1171.60 259.20) rotate(-45) scale(1 1.07) translate(-1171.60 -259.20)">Ctrl</text>
<text x="1195.10" y="259.30" font-size="16" text-anchor="end" transform="translate(1195.10 259.30) rotate(-45) scale(1 1.07) translate(-1195.10 -259.30)">EtOH</text>
<text x="1218.00" y="257.70" font-size="16" text-anchor="end" transform="translate(1218.00 257.70) rotate(-45) scale(1 1.07) translate(-1218.00 -257.70)">Dic</text>
<text x="1241.40" y="258.60" font-size="16" text-anchor="end" transform="translate(1241.40 258.60) rotate(-45) scale(1 1.07) translate(-1241.40 -258.60)">AEA</text>
<line x1="1145.90" y1="296.80" x2="1245.20" y2="296.80" stroke="#000" stroke-width="3.8" stroke-linecap="butt"/>
<text x="1144.10" y="317.60" font-size="20.8" text-anchor="start" transform="translate(1144.10 317.60) scale(1 1.07) translate(-1144.10 -317.60)">+ Zymosan</text>
<text x="977.60" y="136.60" font-size="20.8" text-anchor="middle" transform="translate(977.60 136.60) rotate(-90) scale(1 1.07) translate(-977.60 -136.60)">CCL20(pg/ml)</text>
<text x="1149.00" y="21.00" font-size="20.5" text-anchor="middle" font-weight="bold" transform="translate(1149.00 21.00) scale(1 1.1) translate(-1149.00 -21.00)">CCL20</text>
<line x1="1388.60" y1="53.00" x2="1388.60" y2="243.50" stroke="#000" stroke-width="2.6" stroke-linecap="butt"/>
<line x1="1379.60" y1="242.20" x2="1388.60" y2="242.20" stroke="#000" stroke-width="2.6" stroke-linecap="butt"/>
<text x="1379.80" y="250.81" font-size="20.8" text-anchor="end" transform="translate(1379.80 250.81) scale(1 1.07) translate(-1379.80 -250.81)">0.0</text>
<line x1="1379.60" y1="195.22" x2="1388.60" y2="195.22" stroke="#000" stroke-width="2.6" stroke-linecap="butt"/>
<text x="1379.80" y="203.83" font-size="20.8" text-anchor="end" transform="translate(1379.80 203.83) scale(1 1.07) translate(-1379.80 -203.83)">0.5</text>
<line x1="1379.60" y1="148.25" x2="1388.60" y2="148.25" stroke="#000" stroke-width="2.6" stroke-linecap="butt"/>
<text x="1379.80" y="156.86" font-size="20.8" text-anchor="end" transform="translate(1379.80 156.86) scale(1 1.07) translate(-1379.80 -156.86)">1.0</text>
<line x1="1379.60" y1="101.28" x2="1388.60" y2="101.28" stroke="#000" stroke-width="2.6" stroke-linecap="butt"/>
<text x="1379.80" y="109.88" font-size="20.8" text-anchor="end" transform="translate(1379.80 109.88) scale(1 1.07) translate(-1379.80 -109.88)">1.5</text>
<line x1="1379.60" y1="54.30" x2="1388.60" y2="54.30" stroke="#000" stroke-width="2.6" stroke-linecap="butt"/>
<text x="1379.80" y="62.91" font-size="20.8" text-anchor="end" transform="translate(1379.80 62.91) scale(1 1.07) translate(-1379.80 -62.91)">2.0</text>
<rect x="1401.40" y="163.10" width="24.60" height="77.90" fill="#d4d4d4" stroke="#000" stroke-width="2.4"/>
<rect x="1439.10" y="148.80" width="24.60" height="92.20" fill="#a09fa4" stroke="#000" stroke-width="2.4"/>
<rect x="1476.90" y="218.20" width="24.60" height="22.80" fill="#808080" stroke="#000" stroke-width="2.4"/>
<line x1="1413.70" y1="185.20" x2="1413.70" y2="140.30" stroke="#000" stroke-width="2.4" stroke-linecap="butt"/>
<line x1="1407.95" y1="140.30" x2="1419.45" y2="140.30" stroke="#000" stroke-width="2.4" stroke-linecap="butt"/>
<line x1="1407.95" y1="185.20" x2="1419.45" y2="185.20" stroke="#000" stroke-width="2.4" stroke-linecap="butt"/>
<line x1="1489.20" y1="224.70" x2="1489.20" y2="211.70" stroke="#000" stroke-width="2.4" stroke-linecap="butt"/>
<line x1="1483.45" y1="211.70" x2="1494.95" y2="211.70" stroke="#000" stroke-width="2.4" stroke-linecap="butt"/>
<line x1="1483.45" y1="224.70" x2="1494.95" y2="224.70" stroke="#000" stroke-width="2.4" stroke-linecap="butt"/>
<circle cx="1413.70" cy="78.10" r="4.4" fill="#000"/>
<circle cx="1413.70" cy="140.30" r="4.4" fill="#000"/>
<circle cx="1413.70" cy="150.20" r="4.4" fill="#000"/>
<circle cx="1413.70" cy="178.80" r="4.4" fill="#000"/>
<circle cx="1413.70" cy="187.90" r="4.4" fill="#000"/>
<circle cx="1413.70" cy="240.90" r="4.4" fill="#000"/>
<circle cx="1443.40" cy="147.60" r="4.4" fill="#000"/>
<circle cx="1447.40" cy="147.60" r="4.4" fill="#000"/>
<circle cx="1451.40" cy="147.60" r="4.4" fill="#000"/>
<circle cx="1455.40" cy="147.60" r="4.4" fill="#000"/>
<circle cx="1459.40" cy="147.60" r="4.4" fill="#000"/>
<circle cx="1489.20" cy="201.90" r="4.4" fill="#000"/>
<circle cx="1483.70" cy="208.60" r="4.4" fill="#000"/>
<circle cx="1494.70" cy="208.60" r="4.4" fill="#000"/>
<circle cx="1489.20" cy="218.20" r="4.4" fill="#000"/>
<circle cx="1489.20" cy="231.90" r="4.4" fill="#000"/>
<circle cx="1489.20" cy="241.00" r="4.4" fill="#000"/>
<line x1="1379.60" y1="242.20" x2="1500.00" y2="242.20" stroke="#000" stroke-width="2.6" stroke-linecap="butt"/>
<line x1="1413.70" y1="242.20" x2="1413.70" y2="249.70" stroke="#000" stroke-width="2.6" stroke-linecap="butt"/>
<line x1="1451.40" y1="242.20" x2="1451.40" y2="249.70" stroke="#000" stroke-width="2.6" stroke-linecap="butt"/>
<line x1="1489.20" y1="242.20" x2="1489.20" y2="249.70" stroke="#000" stroke-width="2.6" stroke-linecap="butt"/>
<text x="1425.20" y="261.30" font-size="20.8" text-anchor="end" transform="translate(1425.20 261.30) rotate(-45) scale(1 1.07) translate(-1425.20 -261.30)">EtOH</text>
<text x="1459.50" y="259.60" font-size="20.8" text-anchor="end" transform="translate(1459.50 259.60) rotate(-45) scale(1 1.07) translate(-1459.50 -259.60)">Dic</text>
<text x="1501.90" y="261.20" font-size="20.8" text-anchor="end" transform="translate(1501.90 261.20) rotate(-45) scale(1 1.07) translate(-1501.90 -261.20)">AEA</text>
<text x="1310.50" y="143.20" font-size="20.8" text-anchor="middle" transform="translate(1310.50 143.20) rotate(-90) scale(1 1.07) translate(-1310.50 -143.20)">CCL20 (Norm. to Dic)</text>
<text x="1445.00" y="21.50" font-size="20.5" text-anchor="middle" font-weight="bold" transform="translate(1445.00 21.50) scale(1 1.1) translate(-1445.00 -21.50)">CCL20</text>
<line x1="1452.60" y1="84.40" x2="1496.20" y2="84.40" stroke="#000" stroke-width="2.2" stroke-linecap="round"/>
<text x="1457.78" y="85.90" font-size="15" letter-spacing="1.42" font-weight="bold" font-family="DejaVu Sans" style="font-family:'DejaVu Sans'">****</text>
<line x1="1645.60" y1="53.00" x2="1645.60" y2="243.70" stroke="#000" stroke-width="2.6" stroke-linecap="butt"/>
<line x1="1636.60" y1="242.40" x2="1645.60" y2="242.40" stroke="#000" stroke-width="2.6" stroke-linecap="butt"/>
<text x="1636.80" y="252.01" font-size="20.8" text-anchor="end" transform="translate(1636.80 252.01) scale(1 1.07) translate(-1636.80 -252.01)">0.0</text>
<line x1="1636.60" y1="195.38" x2="1645.60" y2="195.38" stroke="#000" stroke-width="2.6" stroke-linecap="butt"/>
<text x="1636.80" y="204.98" font-size="20.8" text-anchor="end" transform="translate(1636.80 204.98) scale(1 1.07) translate(-1636.80 -204.98)">0.5</text>
<line x1="1636.60" y1="148.35" x2="1645.60" y2="148.35" stroke="#000" stroke-width="2.6" stroke-linecap="butt"/>
<text x="1636.80" y="157.96" font-size="20.8" text-anchor="end" transform="translate(1636.80 157.96) scale(1 1.07) translate(-1636.80 -157.96)">1.0</text>
<line x1="1636.60" y1="101.32" x2="1645.60" y2="101.32" stroke="#000" stroke-width="2.6" stroke-linecap="butt"/>
<text x="1636.80" y="110.93" font-size="20.8" text-anchor="end" transform="translate(1636.80 110.93) scale(1 1.07) translate(-1636.80 -110.93)">1.5</text>
<line x1="1636.60" y1="54.30" x2="1645.60" y2="54.30" stroke="#000" stroke-width="2.6" stroke-linecap="butt"/>
<text x="1636.80" y="63.91" font-size="20.8" text-anchor="end" transform="translate(1636.80 63.91) scale(1 1.07) translate(-1636.80 -63.91)">2.0</text>
<rect x="1658.00" y="148.90" width="24.60" height="92.30" fill="#d4d4d4" stroke="#000" stroke-width="2.4"/>
<rect x="1696.20" y="149.80" width="24.60" height="91.40" fill="#a09fa4" stroke="#000" stroke-width="2.4"/>
<rect x="1733.20" y="225.80" width="24.60" height="15.40" fill="#808080" stroke="#000" stroke-width="2.4"/>
<line x1="1708.50" y1="210.20" x2="1708.50" y2="89.00" stroke="#000" stroke-width="2.4" stroke-linecap="butt"/>
<line x1="1702.50" y1="89.00" x2="1714.50" y2="89.00" stroke="#000" stroke-width="2.4" stroke-linecap="butt"/>
<line x1="1702.50" y1="210.20" x2="1714.50" y2="210.20" stroke="#000" stroke-width="2.4" stroke-linecap="butt"/>
<line x1="1745.50" y1="241.00" x2="1745.50" y2="213.00" stroke="#000" stroke-width="2.4" stroke-linecap="butt"/>
<line x1="1739.50" y1="213.00" x2="1751.50" y2="213.00" stroke="#000" stroke-width="2.4" stroke-linecap="butt"/>
<line x1="1739.50" y1="241.00" x2="1751.50" y2="241.00" stroke="#000" stroke-width="2.4" stroke-linecap="butt"/>
<circle cx="1662.30" cy="147.70" r="4.4" fill="#000"/>
<circle cx="1666.30" cy="147.70" r="4.4" fill="#000"/>
<circle cx="1670.30" cy="147.70" r="4.4" fill="#000"/>
<circle cx="1674.30" cy="147.70" r="4.4" fill="#000"/>
<circle cx="1678.30" cy="147.70" r="4.4" fill="#000"/>
<circle cx="1708.50" cy="71.70" r="4.4" fill="#000"/>
<circle cx="1708.50" cy="100.00" r="4.4" fill="#000"/>
<circle cx="1708.50" cy="143.40" r="4.4" fill="#000"/>
<circle cx="1708.50" cy="152.00" r="4.4" fill="#000"/>
<circle cx="1708.50" cy="187.70" r="4.4" fill="#000"/>
<circle cx="1708.50" cy="241.00" r="4.4" fill="#000"/>
<circle cx="1745.50" cy="209.90" r="4.4" fill="#000"/>
<circle cx="1740.00" cy="217.40" r="4.4" fill="#000"/>
<circle cx="1751.00" cy="218.20" r="4.4" fill="#000"/>
<circle cx="1740.00" cy="241.00" r="4.4" fill="#000"/>
<circle cx="1751.00" cy="241.00" r="4.4" fill="#000"/>
<line x1="1636.60" y1="242.40" x2="1771.00" y2="242.40" stroke="#000" stroke-width="2.6" stroke-linecap="butt"/>
<line x1="1670.30" y1="242.40" x2="1670.30" y2="249.90" stroke="#000" stroke-width="2.6" stroke-linecap="butt"/>
<line x1="1708.50" y1="242.40" x2="1708.50" y2="249.90" stroke="#000" stroke-width="2.6" stroke-linecap="butt"/>
<line x1="1745.50" y1="242.40" x2="1745.50" y2="249.90" stroke="#000" stroke-width="2.6" stroke-linecap="butt"/>
<text x="1685.30" y="261.60" font-size="20.8" text-anchor="end" transform="translate(1685.30 261.60) rotate(-45) scale(1 1.07) translate(-1685.30 -261.60)">EtOH</text>
<text x="1719.80" y="260.10" font-size="20.8" text-anchor="end" transform="translate(1719.80 260.10) rotate(-45) scale(1 1.07) translate(-1719.80 -260.10)">Dic</text>
<text x="1762.00" y="261.70" font-size="20.8" text-anchor="end" transform="translate(1762.00 261.70) rotate(-45) scale(1 1.07) translate(-1762.00 -261.70)">AEA</text>
<text x="1570.50" y="135.80" font-size="20.8" text-anchor="middle" transform="translate(1570.50 135.80) rotate(-90) scale(1 1.07) translate(-1570.50 -135.80)">CCL20 (Norm. to EtOH)</text>
<text x="1701.80" y="21.00" font-size="20.5" text-anchor="middle" font-weight="bold" transform="translate(1701.80 21.00) scale(1 1.1) translate(-1701.80 -21.00)">CCL20</text>
<line x1="1668.90" y1="61.80" x2="1741.00" y2="61.80" stroke="#000" stroke-width="2.2" stroke-linecap="round"/>
<text x="1687.68" y="61.50" font-size="15" letter-spacing="1.46" font-weight="bold" font-family="DejaVu Sans" style="font-family:'DejaVu Sans'">****</text>
<line x1="130.70" y1="419.50" x2="130.70" y2="610.50" stroke="#000" stroke-width="2.6" stroke-linecap="butt"/>
<line x1="121.70" y1="609.20" x2="130.70" y2="609.20" stroke="#000" stroke-width="2.6" stroke-linecap="butt"/>
<text x="121.90" y="615.61" font-size="20.8" text-anchor="end" transform="translate(121.90 615.61) scale(1 1.07) translate(-121.90 -615.61)">0</text>
<line x1="121.70" y1="546.40" x2="130.70" y2="546.40" stroke="#000" stroke-width="2.6" stroke-linecap="butt"/>
<text x="121.90" y="552.81" font-size="20.8" text-anchor="end" transform="translate(121.90 552.81) scale(1 1.07) translate(-121.90 -552.81)">200</text>
<line x1="121.70" y1="483.60" x2="130.70" y2="483.60" stroke="#000" stroke-width="2.6" stroke-linecap="butt"/>
<text x="121.90" y="490.01" font-size="20.8" text-anchor="end" transform="translate(121.90 490.01) scale(1 1.07) translate(-121.90 -490.01)">400</text>
<line x1="121.70" y1="420.80" x2="130.70" y2="420.80" stroke="#000" stroke-width="2.6" stroke-linecap="butt"/>
<text x="121.90" y="427.21" font-size="20.8" text-anchor="end" transform="translate(121.90 427.21) scale(1 1.07) translate(-121.90 -427.21)">600</text>
<rect x="138.85" y="598.50" width="11.10" height="9.50" fill="#9a9a9a" stroke="#000" stroke-width="2.4"/>
<rect x="159.65" y="596.20" width="11.10" height="11.80" fill="#9a9a9a" stroke="#000" stroke-width="2.4"/>
<rect x="180.65" y="588.70" width="11.10" height="19.30" fill="#9a9a9a" stroke="#000" stroke-width="2.4"/>
<rect x="201.25" y="596.20" width="11.10" height="11.80" fill="#9a9a9a" stroke="#000" stroke-width="2.4"/>
<rect x="236.15" y="554.40" width="11.10" height="53.60" fill="#fff" stroke="#000" stroke-width="2.4"/>
<rect x="256.95" y="553.10" width="11.10" height="54.90" fill="#fff" stroke="#000" stroke-width="2.4"/>
<rect x="277.85" y="536.50" width="11.10" height="71.50" fill="#fff" stroke="#000" stroke-width="2.4"/>
<rect x="298.85" y="578.60" width="11.10" height="29.40" fill="#fff" stroke="#000" stroke-width="2.4"/>
<line x1="144.40" y1="600.00" x2="144.40" y2="592.00" stroke="#000" stroke-width="2.4" stroke-linecap="butt"/>
<line x1="140.90" y1="592.00" x2="147.90" y2="592.00" stroke="#000" stroke-width="2.4" stroke-linecap="butt"/>
<line x1="140.90" y1="600.00" x2="147.90" y2="600.00" stroke="#000" stroke-width="2.4" stroke-linecap="butt"/>
<line x1="165.20" y1="598.00" x2="165.20" y2="590.00" stroke="#000" stroke-width="2.4" stroke-linecap="butt"/>
<line x1="161.70" y1="590.00" x2="168.70" y2="590.00" stroke="#000" stroke-width="2.4" stroke-linecap="butt"/>
<line x1="161.70" y1="598.00" x2="168.70" y2="598.00" stroke="#000" stroke-width="2.4" stroke-linecap="butt"/>
<line x1="186.20" y1="595.00" x2="186.20" y2="581.70" stroke="#000" stroke-width="2.4" stroke-linecap="butt"/>
<line x1="182.70" y1="581.70" x2="189.70" y2="581.70" stroke="#000" stroke-width="2.4" stroke-linecap="butt"/>
<line x1="182.70" y1="595.00" x2="189.70" y2="595.00" stroke="#000" stroke-width="2.4" stroke-linecap="butt"/>
<line x1="206.80" y1="600.00" x2="206.80" y2="590.00" stroke="#000" stroke-width="2.4" stroke-linecap="butt"/>
<line x1="203.30" y1="590.00" x2="210.30" y2="590.00" stroke="#000" stroke-width="2.4" stroke-linecap="butt"/>
<line x1="203.30" y1="600.00" x2="210.30" y2="600.00" stroke="#000" stroke-width="2.4" stroke-linecap="butt"/>
<line x1="241.70" y1="562.90" x2="241.70" y2="541.60" stroke="#000" stroke-width="2.4" stroke-linecap="butt"/>
<line x1="238.20" y1="541.60" x2="245.20" y2="541.60" stroke="#000" stroke-width="2.4" stroke-linecap="butt"/>
<line x1="238.20" y1="562.90" x2="245.20" y2="562.90" stroke="#000" stroke-width="2.4" stroke-linecap="butt"/>
<line x1="262.50" y1="560.00" x2="262.50" y2="541.00" stroke="#000" stroke-width="2.4" stroke-linecap="butt"/>
<line x1="259.00" y1="541.00" x2="266.00" y2="541.00" stroke="#000" stroke-width="2.4" stroke-linecap="butt"/>
<line x1="259.00" y1="560.00" x2="266.00" y2="560.00" stroke="#000" stroke-width="2.4" stroke-linecap="butt"/>
<line x1="283.40" y1="556.00" x2="283.40" y2="513.00" stroke="#000" stroke-width="2.4" stroke-linecap="butt"/>
<line x1="279.90" y1="513.00" x2="286.90" y2="513.00" stroke="#000" stroke-width="2.4" stroke-linecap="butt"/>
<line x1="279.90" y1="556.00" x2="286.90" y2="556.00" stroke="#000" stroke-width="2.4" stroke-linecap="butt"/>
<line x1="304.40" y1="584.80" x2="304.40" y2="570.00" stroke="#000" stroke-width="2.4" stroke-linecap="butt"/>
<line x1="300.90" y1="570.00" x2="307.90" y2="570.00" stroke="#000" stroke-width="2.4" stroke-linecap="butt"/>
<line x1="300.90" y1="584.80" x2="307.90" y2="584.80" stroke="#000" stroke-width="2.4" stroke-linecap="butt"/>
<circle cx="141.90" cy="602.50" r="3.95" fill="none" stroke="#000" stroke-width="2.1"/>
<circle cx="146.90" cy="602.50" r="3.95" fill="none" stroke="#000" stroke-width="2.1"/>
<circle cx="141.90" cy="600.00" r="3.95" fill="none" stroke="#000" stroke-width="2.1"/>
<circle cx="146.90" cy="600.00" r="3.95" fill="none" stroke="#000" stroke-width="2.1"/>
<circle cx="144.40" cy="578.20" r="3.95" fill="none" stroke="#000" stroke-width="2.1"/>
<circle cx="144.40" cy="589.60" r="3.95" fill="none" stroke="#000" stroke-width="2.1"/>
<circle cx="162.70" cy="602.50" r="3.95" fill="none" stroke="#000" stroke-width="2.1"/>
<circle cx="167.70" cy="602.50" r="3.95" fill="none" stroke="#000" stroke-width="2.1"/>
<circle cx="162.70" cy="600.00" r="3.95" fill="none" stroke="#000" stroke-width="2.1"/>
<circle cx="167.70" cy="600.00" r="3.95" fill="none" stroke="#000" stroke-width="2.1"/>
<circle cx="162.70" cy="597.50" r="3.95" fill="none" stroke="#000" stroke-width="2.1"/>
<circle cx="167.70" cy="597.50" r="3.95" fill="none" stroke="#000" stroke-width="2.1"/>
<circle cx="165.20" cy="573.00" r="3.95" fill="none" stroke="#000" stroke-width="2.1"/>
<circle cx="165.20" cy="582.30" r="3.95" fill="none" stroke="#000" stroke-width="2.1"/>
<circle cx="165.20" cy="587.50" r="3.95" fill="none" stroke="#000" stroke-width="2.1"/>
<circle cx="183.70" cy="602.50" r="3.95" fill="none" stroke="#000" stroke-width="2.1"/>
<circle cx="188.70" cy="602.50" r="3.95" fill="none" stroke="#000" stroke-width="2.1"/>
<circle cx="183.70" cy="600.00" r="3.95" fill="none" stroke="#000" stroke-width="2.1"/>
<circle cx="188.70" cy="600.00" r="3.95" fill="none" stroke="#000" stroke-width="2.1"/>
<circle cx="183.70" cy="597.50" r="3.95" fill="none" stroke="#000" stroke-width="2.1"/>
<circle cx="188.70" cy="597.50" r="3.95" fill="none" stroke="#000" stroke-width="2.1"/>
<circle cx="183.70" cy="595.00" r="3.95" fill="none" stroke="#000" stroke-width="2.1"/>
<circle cx="188.70" cy="595.00" r="3.95" fill="none" stroke="#000" stroke-width="2.1"/>
<circle cx="183.70" cy="592.50" r="3.95" fill="none" stroke="#000" stroke-width="2.1"/>
<circle cx="188.70" cy="592.50" r="3.95" fill="none" stroke="#000" stroke-width="2.1"/>
<circle cx="183.70" cy="590.00" r="3.95" fill="none" stroke="#000" stroke-width="2.1"/>
<circle cx="188.70" cy="590.00" r="3.95" fill="none" stroke="#000" stroke-width="2.1"/>
<circle cx="186.20" cy="552.20" r="3.95" fill="none" stroke="#000" stroke-width="2.1"/>
<circle cx="186.20" cy="576.50" r="3.95" fill="none" stroke="#000" stroke-width="2.1"/>
<circle cx="182.10" cy="589.80" r="3.95" fill="none" stroke="#000" stroke-width="2.1"/>
<circle cx="190.20" cy="591.00" r="3.95" fill="none" stroke="#000" stroke-width="2.1"/>
<circle cx="204.30" cy="602.50" r="3.95" fill="none" stroke="#000" stroke-width="2.1"/>
<circle cx="209.30" cy="602.50" r="3.95" fill="none" stroke="#000" stroke-width="2.1"/>
<circle cx="204.30" cy="600.00" r="3.95" fill="none" stroke="#000" stroke-width="2.1"/>
<circle cx="209.30" cy="600.00" r="3.95" fill="none" stroke="#000" stroke-width="2.1"/>
<circle cx="204.30" cy="597.50" r="3.95" fill="none" stroke="#000" stroke-width="2.1"/>
<circle cx="209.30" cy="597.50" r="3.95" fill="none" stroke="#000" stroke-width="2.1"/>
<circle cx="204.30" cy="595.00" r="3.95" fill="none" stroke="#000" stroke-width="2.1"/>
<circle cx="209.30" cy="595.00" r="3.95" fill="none" stroke="#000" stroke-width="2.1"/>
<circle cx="206.80" cy="555.60" r="3.95" fill="none" stroke="#000" stroke-width="2.1"/>
<circle cx="206.80" cy="582.80" r="3.95" fill="none" stroke="#000" stroke-width="2.1"/>
<circle cx="203.80" cy="590.00" r="3.95" fill="none" stroke="#000" stroke-width="2.1"/>
<circle cx="209.80" cy="590.00" r="3.95" fill="none" stroke="#000" stroke-width="2.1"/>
<circle cx="238.00" cy="525.00" r="5.0" fill="#000"/>
<circle cx="244.60" cy="525.00" r="5.0" fill="#000"/>
<circle cx="242.10" cy="550.70" r="5.0" fill="#000"/>
<circle cx="238.80" cy="582.30" r="5.0" fill="#000"/>
<circle cx="244.60" cy="579.90" r="5.0" fill="#000"/>
<circle cx="260.00" cy="578.00" r="5.0" fill="#000"/>
<circle cx="265.00" cy="578.00" r="5.0" fill="#000"/>
<circle cx="260.00" cy="573.00" r="5.0" fill="#000"/>
<circle cx="265.00" cy="573.00" r="5.0" fill="#000"/>
<circle cx="260.00" cy="568.00" r="5.0" fill="#000"/>
<circle cx="265.00" cy="568.00" r="5.0" fill="#000"/>
<circle cx="260.00" cy="563.00" r="5.0" fill="#000"/>
<circle cx="265.00" cy="563.00" r="5.0" fill="#000"/>
<circle cx="260.00" cy="558.00" r="5.0" fill="#000"/>
<circle cx="265.00" cy="558.00" r="5.0" fill="#000"/>
<circle cx="262.50" cy="479.90" r="5.0" fill="#000"/>
<circle cx="259.60" cy="526.60" r="5.0" fill="#000"/>
<circle cx="265.40" cy="525.80" r="5.0" fill="#000"/>
<circle cx="262.50" cy="541.60" r="5.0" fill="#000"/>
<circle cx="258.80" cy="556.60" r="5.0" fill="#000"/>
<circle cx="265.50" cy="558.00" r="5.0" fill="#000"/>
<circle cx="258.80" cy="564.00" r="5.0" fill="#000"/>
<circle cx="267.10" cy="567.40" r="5.0" fill="#000"/>
<circle cx="267.10" cy="577.40" r="5.0" fill="#000"/>
<circle cx="259.60" cy="584.80" r="5.0" fill="#000"/>
<circle cx="283.40" cy="432.80" r="5.0" fill="#000"/>
<circle cx="283.40" cy="478.40" r="5.0" fill="#000"/>
<circle cx="280.90" cy="551.60" r="5.0" fill="#000"/>
<circle cx="285.40" cy="556.60" r="5.0" fill="#000"/>
<circle cx="280.90" cy="573.20" r="5.0" fill="#000"/>
<circle cx="286.20" cy="573.20" r="5.0" fill="#000"/>
<circle cx="301.90" cy="604.00" r="5.0" fill="#000"/>
<circle cx="306.90" cy="604.00" r="5.0" fill="#000"/>
<circle cx="301.90" cy="599.00" r="5.0" fill="#000"/>
<circle cx="306.90" cy="599.00" r="5.0" fill="#000"/>
<circle cx="301.90" cy="594.00" r="5.0" fill="#000"/>
<circle cx="306.90" cy="594.00" r="5.0" fill="#000"/>
<circle cx="301.90" cy="589.00" r="5.0" fill="#000"/>
<circle cx="306.90" cy="589.00" r="5.0" fill="#000"/>
<circle cx="304.40" cy="505.00" r="5.0" fill="#000"/>
<circle cx="304.40" cy="528.00" r="5.0" fill="#000"/>
<circle cx="304.40" cy="569.90" r="5.0" fill="#000"/>
<circle cx="300.40" cy="574.00" r="5.0" fill="#000"/>
<circle cx="301.20" cy="590.70" r="5.0" fill="#000"/>
<circle cx="308.70" cy="595.70" r="5.0" fill="#000"/>
<circle cx="304.40" cy="604.00" r="5.0" fill="#000"/>
<circle cx="300.40" cy="604.00" r="5.0" fill="#000"/>
<line x1="121.70" y1="609.20" x2="320.00" y2="609.20" stroke="#000" stroke-width="2.6" stroke-linecap="butt"/>
<line x1="144.40" y1="609.20" x2="144.40" y2="616.70" stroke="#000" stroke-width="2.6" stroke-linecap="butt"/>
<line x1="165.20" y1="609.20" x2="165.20" y2="616.70" stroke="#000" stroke-width="2.6" stroke-linecap="butt"/>
<line x1="186.20" y1="609.20" x2="186.20" y2="616.70" stroke="#000" stroke-width="2.6" stroke-linecap="butt"/>
<line x1="206.80" y1="609.20" x2="206.80" y2="616.70" stroke="#000" stroke-width="2.6" stroke-linecap="butt"/>
<line x1="241.70" y1="609.20" x2="241.70" y2="616.70" stroke="#000" stroke-width="2.6" stroke-linecap="butt"/>
<line x1="262.50" y1="609.20" x2="262.50" y2="616.70" stroke="#000" stroke-width="2.6" stroke-linecap="butt"/>
<line x1="283.40" y1="609.20" x2="283.40" y2="616.70" stroke="#000" stroke-width="2.6" stroke-linecap="butt"/>
<line x1="304.40" y1="609.20" x2="304.40" y2="616.70" stroke="#000" stroke-width="2.6" stroke-linecap="butt"/>
<text x="149.40" y="627.30" font-size="16" text-anchor="end" transform="translate(149.40 627.30) rotate(-45) scale(1 1.07) translate(-149.40 -627.30)">Ctrl</text>
<text x="172.80" y="627.40" font-size="16" text-anchor="end" transform="translate(172.80 627.40) rotate(-45) scale(1 1.07) translate(-172.80 -627.40)">EtOH</text>
<text x="195.90" y="625.80" font-size="16" text-anchor="end" transform="translate(195.90 625.80) rotate(-45) scale(1 1.07) translate(-195.90 -625.80)">Dic</text>
<text x="219.30" y="626.70" font-size="16" text-anchor="end" transform="translate(219.30 626.70) rotate(-45) scale(1 1.07) translate(-219.30 -626.70)">AEA</text>
<text x="246.70" y="627.30" font-size="16" text-anchor="end" transform="translate(246.70 627.30) rotate(-45) scale(1 1.07) translate(-246.70 -627.30)">Ctrl</text>
<text x="270.10" y="627.40" font-size="16" text-anchor="end" transform="translate(270.10 627.40) rotate(-45) scale(1 1.07) translate(-270.10 -627.40)">EtOH</text>
<text x="293.10" y="625.80" font-size="16" text-anchor="end" transform="translate(293.10 625.80) rotate(-45) scale(1 1.07) translate(-293.10 -625.80)">Dic</text>
<text x="316.90" y="626.70" font-size="16" text-anchor="end" transform="translate(316.90 626.70) rotate(-45) scale(1 1.07) translate(-316.90 -626.70)">AEA</text>
<line x1="221.40" y1="664.70" x2="320.80" y2="664.70" stroke="#000" stroke-width="3.8" stroke-linecap="butt"/>
<text x="219.60" y="684.90" font-size="20.8" text-anchor="start" transform="translate(219.60 684.90) scale(1 1.07) translate(-219.60 -684.90)">+ Zymosan</text>
<text x="53.60" y="512.00" font-size="20.8" text-anchor="middle" transform="translate(53.60 512.00) rotate(-90) scale(1 1.07) translate(-53.60 -512.00)">CCL4(pg/ml)</text>
<text x="223.90" y="387.20" font-size="18" text-anchor="middle" font-weight="bold" transform="translate(223.90 387.20) scale(1 1.1) translate(-223.90 -387.20)">CCL4</text>
<line x1="464.00" y1="422.40" x2="464.00" y2="613.70" stroke="#000" stroke-width="2.6" stroke-linecap="butt"/>
<line x1="455.00" y1="612.40" x2="464.00" y2="612.40" stroke="#000" stroke-width="2.6" stroke-linecap="butt"/>
<text x="454.40" y="619.41" font-size="20.8" text-anchor="end" transform="translate(454.40 619.41) scale(1 1.07) translate(-454.40 -619.41)">0.0</text>
<line x1="455.00" y1="549.50" x2="464.00" y2="549.50" stroke="#000" stroke-width="2.6" stroke-linecap="butt"/>
<text x="454.40" y="556.51" font-size="20.8" text-anchor="end" transform="translate(454.40 556.51) scale(1 1.07) translate(-454.40 -556.51)">0.5</text>
<line x1="455.00" y1="486.60" x2="464.00" y2="486.60" stroke="#000" stroke-width="2.6" stroke-linecap="butt"/>
<text x="454.40" y="493.61" font-size="20.8" text-anchor="end" transform="translate(454.40 493.61) scale(1 1.07) translate(-454.40 -493.61)">1.0</text>
<line x1="455.00" y1="423.70" x2="464.00" y2="423.70" stroke="#000" stroke-width="2.6" stroke-linecap="butt"/>
<text x="454.40" y="430.71" font-size="20.8" text-anchor="end" transform="translate(454.40 430.71) scale(1 1.07) translate(-454.40 -430.71)">1.5</text>
<rect x="476.35" y="502.50" width="24.10" height="108.70" fill="#d4d4d4" stroke="#000" stroke-width="2.4"/>
<rect x="514.65" y="488.10" width="24.10" height="123.10" fill="#a09fa4" stroke="#000" stroke-width="2.4"/>
<rect x="552.95" y="534.60" width="24.10" height="76.60" fill="#808080" stroke="#000" stroke-width="2.4"/>
<line x1="488.40" y1="515.40" x2="488.40" y2="487.30" stroke="#000" stroke-width="2.4" stroke-linecap="butt"/>
<line x1="482.40" y1="487.30" x2="494.40" y2="487.30" stroke="#000" stroke-width="2.4" stroke-linecap="butt"/>
<line x1="482.40" y1="515.40" x2="494.40" y2="515.40" stroke="#000" stroke-width="2.4" stroke-linecap="butt"/>
<line x1="565.00" y1="542.00" x2="565.00" y2="527.30" stroke="#000" stroke-width="2.4" stroke-linecap="butt"/>
<line x1="559.00" y1="527.30" x2="571.00" y2="527.30" stroke="#000" stroke-width="2.4" stroke-linecap="butt"/>
<line x1="559.00" y1="542.00" x2="571.00" y2="542.00" stroke="#000" stroke-width="2.4" stroke-linecap="butt"/>
<circle cx="488.40" cy="463.30" r="4.4" fill="#000"/>
<circle cx="488.40" cy="481.00" r="4.4" fill="#000"/>
<circle cx="482.10" cy="489.30" r="4.4" fill="#000"/>
<circle cx="493.50" cy="493.10" r="4.4" fill="#000"/>
<circle cx="482.10" cy="497.70" r="4.4" fill="#000"/>
<circle cx="488.40" cy="505.30" r="4.4" fill="#000"/>
<circle cx="488.40" cy="583.00" r="4.4" fill="#000"/>
<circle cx="518.70" cy="486.90" r="4.4" fill="#000"/>
<circle cx="522.70" cy="486.90" r="4.4" fill="#000"/>
<circle cx="526.70" cy="486.90" r="4.4" fill="#000"/>
<circle cx="530.70" cy="486.90" r="4.4" fill="#000"/>
<circle cx="534.70" cy="486.90" r="4.4" fill="#000"/>
<circle cx="565.00" cy="498.70" r="4.4" fill="#000"/>
<circle cx="565.00" cy="527.30" r="4.4" fill="#000"/>
<circle cx="558.50" cy="536.00" r="4.4" fill="#000"/>
<circle cx="571.50" cy="537.00" r="4.4" fill="#000"/>
<circle cx="565.00" cy="543.70" r="4.4" fill="#000"/>
<circle cx="565.00" cy="555.10" r="4.4" fill="#000"/>
<line x1="455.00" y1="612.40" x2="590.00" y2="612.40" stroke="#000" stroke-width="2.6" stroke-linecap="butt"/>
<line x1="488.40" y1="612.40" x2="488.40" y2="619.90" stroke="#000" stroke-width="2.6" stroke-linecap="butt"/>
<line x1="526.70" y1="612.40" x2="526.70" y2="619.90" stroke="#000" stroke-width="2.6" stroke-linecap="butt"/>
<line x1="565.00" y1="612.40" x2="565.00" y2="619.90" stroke="#000" stroke-width="2.6" stroke-linecap="butt"/>
<text x="500.50" y="631.10" font-size="20.8" text-anchor="end" transform="translate(500.50 631.10) rotate(-45) scale(1 1.07) translate(-500.50 -631.10)">EtOH</text>
<text x="535.00" y="629.60" font-size="20.8" text-anchor="end" transform="translate(535.00 629.60) rotate(-45) scale(1 1.07) translate(-535.00 -629.60)">Dic</text>
<text x="577.35" y="631.20" font-size="20.8" text-anchor="end" transform="translate(577.35 631.20) rotate(-45) scale(1 1.07) translate(-577.35 -631.20)">AEA</text>
<text x="385.30" y="510.90" font-size="20.8" text-anchor="middle" transform="translate(385.30 510.90) rotate(-90) scale(1 1.07) translate(-385.30 -510.90)">CCL4 (Norm. to Dic)</text>
<text x="519.80" y="387.50" font-size="18" text-anchor="middle" font-weight="bold" transform="translate(519.80 387.50) scale(1 1.1) translate(-519.80 -387.50)">CCL4</text>
<line x1="527.00" y1="456.90" x2="569.30" y2="456.90" stroke="#000" stroke-width="2.2" stroke-linecap="round"/>
<text x="532.12" y="461.20" font-size="24.6" letter-spacing="2.63" font-weight="bold">***</text>
<line x1="721.60" y1="422.40" x2="721.60" y2="613.80" stroke="#000" stroke-width="2.6" stroke-linecap="butt"/>
<line x1="712.60" y1="612.50" x2="721.60" y2="612.50" stroke="#000" stroke-width="2.6" stroke-linecap="butt"/>
<text x="710.80" y="618.61" font-size="20.8" text-anchor="end" transform="translate(710.80 618.61) scale(1 1.07) translate(-710.80 -618.61)">0</text>
<line x1="712.60" y1="574.74" x2="721.60" y2="574.74" stroke="#000" stroke-width="2.6" stroke-linecap="butt"/>
<text x="710.80" y="580.85" font-size="20.8" text-anchor="end" transform="translate(710.80 580.85) scale(1 1.07) translate(-710.80 -580.85)">1</text>
<line x1="712.60" y1="536.98" x2="721.60" y2="536.98" stroke="#000" stroke-width="2.6" stroke-linecap="butt"/>
<text x="710.80" y="543.09" font-size="20.8" text-anchor="end" transform="translate(710.80 543.09) scale(1 1.07) translate(-710.80 -543.09)">2</text>
<line x1="712.60" y1="499.22" x2="721.60" y2="499.22" stroke="#000" stroke-width="2.6" stroke-linecap="butt"/>
<text x="710.80" y="505.33" font-size="20.8" text-anchor="end" transform="translate(710.80 505.33) scale(1 1.07) translate(-710.80 -505.33)">3</text>
<line x1="712.60" y1="461.46" x2="721.60" y2="461.46" stroke="#000" stroke-width="2.6" stroke-linecap="butt"/>
<text x="710.80" y="467.57" font-size="20.8" text-anchor="end" transform="translate(710.80 467.57) scale(1 1.07) translate(-710.80 -467.57)">4</text>
<line x1="712.60" y1="423.70" x2="721.60" y2="423.70" stroke="#000" stroke-width="2.6" stroke-linecap="butt"/>
<text x="710.80" y="429.81" font-size="20.8" text-anchor="end" transform="translate(710.80 429.81) scale(1 1.07) translate(-710.80 -429.81)">5</text>
<rect x="734.95" y="575.30" width="24.10" height="36.00" fill="#d4d4d4" stroke="#000" stroke-width="2.4"/>
<rect x="773.25" y="557.60" width="24.10" height="53.70" fill="#a09fa4" stroke="#000" stroke-width="2.4"/>
<rect x="810.15" y="579.20" width="24.10" height="32.10" fill="#808080" stroke="#000" stroke-width="2.4"/>
<line x1="785.30" y1="573.00" x2="785.30" y2="539.60" stroke="#000" stroke-width="2.4" stroke-linecap="butt"/>
<line x1="779.30" y1="539.60" x2="791.30" y2="539.60" stroke="#000" stroke-width="2.4" stroke-linecap="butt"/>
<line x1="779.30" y1="573.00" x2="791.30" y2="573.00" stroke="#000" stroke-width="2.4" stroke-linecap="butt"/>
<line x1="822.20" y1="587.00" x2="822.20" y2="569.30" stroke="#000" stroke-width="2.4" stroke-linecap="butt"/>
<line x1="816.20" y1="569.30" x2="828.20" y2="569.30" stroke="#000" stroke-width="2.4" stroke-linecap="butt"/>
<line x1="816.20" y1="587.00" x2="828.20" y2="587.00" stroke="#000" stroke-width="2.4" stroke-linecap="butt"/>
<circle cx="739.00" cy="574.10" r="4.4" fill="#000"/>
<circle cx="743.00" cy="574.10" r="4.4" fill="#000"/>
<circle cx="747.00" cy="574.10" r="4.4" fill="#000"/>
<circle cx="751.00" cy="574.10" r="4.4" fill="#000"/>
<circle cx="755.00" cy="574.10" r="4.4" fill="#000"/>
<circle cx="785.30" cy="453.40" r="4.4" fill="#000"/>
<circle cx="779.30" cy="571.00" r="4.4" fill="#000"/>
<circle cx="786.30" cy="573.00" r="4.4" fill="#000"/>
<circle cx="793.30" cy="571.00" r="4.4" fill="#000"/>
<circle cx="781.30" cy="579.00" r="4.4" fill="#000"/>
<circle cx="789.30" cy="578.00" r="4.4" fill="#000"/>
<circle cx="822.20" cy="518.10" r="4.4" fill="#000"/>
<circle cx="814.20" cy="584.00" r="4.4" fill="#000"/>
<circle cx="822.20" cy="588.00" r="4.4" fill="#000"/>
<circle cx="830.20" cy="584.00" r="4.4" fill="#000"/>
<circle cx="817.20" cy="591.00" r="4.4" fill="#000"/>
<circle cx="827.20" cy="591.00" r="4.4" fill="#000"/>
<line x1="712.60" y1="612.50" x2="850.00" y2="612.50" stroke="#000" stroke-width="2.6" stroke-linecap="butt"/>
<line x1="747.00" y1="612.50" x2="747.00" y2="620.00" stroke="#000" stroke-width="2.6" stroke-linecap="butt"/>
<line x1="785.30" y1="612.50" x2="785.30" y2="620.00" stroke="#000" stroke-width="2.6" stroke-linecap="butt"/>
<line x1="822.20" y1="612.50" x2="822.20" y2="620.00" stroke="#000" stroke-width="2.6" stroke-linecap="butt"/>
<text x="760.80" y="631.60" font-size="20.8" text-anchor="end" transform="translate(760.80 631.60) rotate(-45) scale(1 1.07) translate(-760.80 -631.60)">EtOH</text>
<text x="795.00" y="630.10" font-size="20.8" text-anchor="end" transform="translate(795.00 630.10) rotate(-45) scale(1 1.07) translate(-795.00 -630.10)">Dic</text>
<text x="837.35" y="631.70" font-size="20.8" text-anchor="end" transform="translate(837.35 631.70) rotate(-45) scale(1 1.07) translate(-837.35 -631.70)">AEA</text>
<text x="645.50" y="507.70" font-size="20.8" text-anchor="middle" transform="translate(645.50 507.70) rotate(-90) scale(1 1.07) translate(-645.50 -507.70)">CCL4 (Norm. to EtOH)</text>
<text x="784.00" y="387.50" font-size="18" text-anchor="middle" font-weight="bold" transform="translate(784.00 387.50) scale(1 1.1) translate(-784.00 -387.50)">CCL4</text>
<line x1="1053.70" y1="422.40" x2="1053.70" y2="612.50" stroke="#000" stroke-width="2.6" stroke-linecap="butt"/>
<line x1="1044.70" y1="611.20" x2="1053.70" y2="611.20" stroke="#000" stroke-width="2.6" stroke-linecap="butt"/>
<text x="1045.40" y="617.11" font-size="20.8" text-anchor="end" transform="translate(1045.40 617.11) scale(1 1.07) translate(-1045.40 -617.11)">0</text>
<line x1="1044.70" y1="564.33" x2="1053.70" y2="564.33" stroke="#000" stroke-width="2.6" stroke-linecap="butt"/>
<text x="1045.40" y="570.23" font-size="20.8" text-anchor="end" transform="translate(1045.40 570.23) scale(1 1.07) translate(-1045.40 -570.23)">10</text>
<line x1="1044.70" y1="517.45" x2="1053.70" y2="517.45" stroke="#000" stroke-width="2.6" stroke-linecap="butt"/>
<text x="1045.40" y="523.36" font-size="20.8" text-anchor="end" transform="translate(1045.40 523.36) scale(1 1.07) translate(-1045.40 -523.36)">20</text>
<line x1="1044.70" y1="470.57" x2="1053.70" y2="470.57" stroke="#000" stroke-width="2.6" stroke-linecap="butt"/>
<text x="1045.40" y="476.48" font-size="20.8" text-anchor="end" transform="translate(1045.40 476.48) scale(1 1.07) translate(-1045.40 -476.48)">30</text>
<line x1="1044.70" y1="423.70" x2="1053.70" y2="423.70" stroke="#000" stroke-width="2.6" stroke-linecap="butt"/>
<text x="1045.40" y="429.61" font-size="20.8" text-anchor="end" transform="translate(1045.40 429.61) scale(1 1.07) translate(-1045.40 -429.61)">40</text>
<rect x="1061.65" y="591.50" width="10.90" height="18.50" fill="#8c8c8c" stroke="#000" stroke-width="2.4"/>
<rect x="1082.35" y="589.00" width="10.90" height="21.00" fill="#8c8c8c" stroke="#000" stroke-width="2.4"/>
<rect x="1103.55" y="572.40" width="10.90" height="37.60" fill="#8c8c8c" stroke="#000" stroke-width="2.4"/>
<rect x="1124.55" y="564.40" width="10.90" height="45.60" fill="#8c8c8c" stroke="#000" stroke-width="2.4"/>
<rect x="1159.45" y="572.70" width="10.90" height="37.30" fill="#fff" stroke="#000" stroke-width="2.4"/>
<rect x="1180.75" y="569.40" width="10.90" height="40.60" fill="#fff" stroke="#000" stroke-width="2.4"/>
<rect x="1201.45" y="573.20" width="10.90" height="36.80" fill="#fff" stroke="#000" stroke-width="2.4"/>
<rect x="1222.05" y="563.60" width="10.90" height="46.40" fill="#fff" stroke="#000" stroke-width="2.4"/>
<line x1="1067.10" y1="598.00" x2="1067.10" y2="583.00" stroke="#000" stroke-width="2.4" stroke-linecap="butt"/>
<line x1="1063.85" y1="583.00" x2="1070.35" y2="583.00" stroke="#000" stroke-width="2.4" stroke-linecap="butt"/>
<line x1="1063.85" y1="598.00" x2="1070.35" y2="598.00" stroke="#000" stroke-width="2.4" stroke-linecap="butt"/>
<line x1="1087.80" y1="592.00" x2="1087.80" y2="578.00" stroke="#000" stroke-width="2.4" stroke-linecap="butt"/>
<line x1="1084.55" y1="578.00" x2="1091.05" y2="578.00" stroke="#000" stroke-width="2.4" stroke-linecap="butt"/>
<line x1="1084.55" y1="592.00" x2="1091.05" y2="592.00" stroke="#000" stroke-width="2.4" stroke-linecap="butt"/>
<line x1="1109.00" y1="578.00" x2="1109.00" y2="563.00" stroke="#000" stroke-width="2.4" stroke-linecap="butt"/>
<line x1="1105.75" y1="563.00" x2="1112.25" y2="563.00" stroke="#000" stroke-width="2.4" stroke-linecap="butt"/>
<line x1="1105.75" y1="578.00" x2="1112.25" y2="578.00" stroke="#000" stroke-width="2.4" stroke-linecap="butt"/>
<line x1="1130.00" y1="570.00" x2="1130.00" y2="551.30" stroke="#000" stroke-width="2.4" stroke-linecap="butt"/>
<line x1="1126.75" y1="551.30" x2="1133.25" y2="551.30" stroke="#000" stroke-width="2.4" stroke-linecap="butt"/>
<line x1="1126.75" y1="570.00" x2="1133.25" y2="570.00" stroke="#000" stroke-width="2.4" stroke-linecap="butt"/>
<line x1="1164.90" y1="577.00" x2="1164.90" y2="559.00" stroke="#000" stroke-width="2.4" stroke-linecap="butt"/>
<line x1="1161.65" y1="559.00" x2="1168.15" y2="559.00" stroke="#000" stroke-width="2.4" stroke-linecap="butt"/>
<line x1="1161.65" y1="577.00" x2="1168.15" y2="577.00" stroke="#000" stroke-width="2.4" stroke-linecap="butt"/>
<line x1="1186.20" y1="575.00" x2="1186.20" y2="561.00" stroke="#000" stroke-width="2.4" stroke-linecap="butt"/>
<line x1="1182.95" y1="561.00" x2="1189.45" y2="561.00" stroke="#000" stroke-width="2.4" stroke-linecap="butt"/>
<line x1="1182.95" y1="575.00" x2="1189.45" y2="575.00" stroke="#000" stroke-width="2.4" stroke-linecap="butt"/>
<line x1="1206.90" y1="580.00" x2="1206.90" y2="563.20" stroke="#000" stroke-width="2.4" stroke-linecap="butt"/>
<line x1="1203.65" y1="563.20" x2="1210.15" y2="563.20" stroke="#000" stroke-width="2.4" stroke-linecap="butt"/>
<line x1="1203.65" y1="580.00" x2="1210.15" y2="580.00" stroke="#000" stroke-width="2.4" stroke-linecap="butt"/>
<line x1="1227.50" y1="570.00" x2="1227.50" y2="553.00" stroke="#000" stroke-width="2.4" stroke-linecap="butt"/>
<line x1="1224.25" y1="553.00" x2="1230.75" y2="553.00" stroke="#000" stroke-width="2.4" stroke-linecap="butt"/>
<line x1="1224.25" y1="570.00" x2="1230.75" y2="570.00" stroke="#000" stroke-width="2.4" stroke-linecap="butt"/>
<circle cx="1064.60" cy="604.00" r="3.95" fill="none" stroke="#000" stroke-width="2.1"/>
<circle cx="1069.60" cy="604.00" r="3.95" fill="none" stroke="#000" stroke-width="2.1"/>
<circle cx="1064.60" cy="599.00" r="3.95" fill="none" stroke="#000" stroke-width="2.1"/>
<circle cx="1069.60" cy="599.00" r="3.95" fill="none" stroke="#000" stroke-width="2.1"/>
<circle cx="1064.60" cy="594.00" r="3.95" fill="none" stroke="#000" stroke-width="2.1"/>
<circle cx="1069.60" cy="594.00" r="3.95" fill="none" stroke="#000" stroke-width="2.1"/>
<circle cx="1064.60" cy="589.00" r="3.95" fill="none" stroke="#000" stroke-width="2.1"/>
<circle cx="1069.60" cy="589.00" r="3.95" fill="none" stroke="#000" stroke-width="2.1"/>
<circle cx="1067.10" cy="559.80" r="3.95" fill="none" stroke="#000" stroke-width="2.1"/>
<circle cx="1067.10" cy="576.50" r="3.95" fill="none" stroke="#000" stroke-width="2.1"/>
<circle cx="1067.10" cy="584.70" r="3.95" fill="none" stroke="#000" stroke-width="2.1"/>
<circle cx="1085.30" cy="604.00" r="3.95" fill="none" stroke="#000" stroke-width="2.1"/>
<circle cx="1090.30" cy="604.00" r="3.95" fill="none" stroke="#000" stroke-width="2.1"/>
<circle cx="1085.30" cy="599.00" r="3.95" fill="none" stroke="#000" stroke-width="2.1"/>
<circle cx="1090.30" cy="599.00" r="3.95" fill="none" stroke="#000" stroke-width="2.1"/>
<circle cx="1085.30" cy="594.00" r="3.95" fill="none" stroke="#000" stroke-width="2.1"/>
<circle cx="1090.30" cy="594.00" r="3.95" fill="none" stroke="#000" stroke-width="2.1"/>
<circle cx="1085.30" cy="589.00" r="3.95" fill="none" stroke="#000" stroke-width="2.1"/>
<circle cx="1090.30" cy="589.00" r="3.95" fill="none" stroke="#000" stroke-width="2.1"/>
<circle cx="1085.30" cy="584.00" r="3.95" fill="none" stroke="#000" stroke-width="2.1"/>
<circle cx="1090.30" cy="584.00" r="3.95" fill="none" stroke="#000" stroke-width="2.1"/>
<circle cx="1088.40" cy="559.80" r="3.95" fill="none" stroke="#000" stroke-width="2.1"/>
<circle cx="1088.40" cy="565.00" r="3.95" fill="none" stroke="#000" stroke-width="2.1"/>
<circle cx="1088.40" cy="572.60" r="3.95" fill="none" stroke="#000" stroke-width="2.1"/>
<circle cx="1084.80" cy="579.00" r="3.95" fill="none" stroke="#000" stroke-width="2.1"/>
<circle cx="1106.50" cy="585.00" r="3.95" fill="none" stroke="#000" stroke-width="2.1"/>
<circle cx="1111.50" cy="585.00" r="3.95" fill="none" stroke="#000" stroke-width="2.1"/>
<circle cx="1109.00" cy="541.70" r="3.95" fill="none" stroke="#000" stroke-width="2.1"/>
<circle cx="1109.00" cy="551.50" r="3.95" fill="none" stroke="#000" stroke-width="2.1"/>
<circle cx="1109.00" cy="566.90" r="3.95" fill="none" stroke="#000" stroke-width="2.1"/>
<circle cx="1127.50" cy="586.00" r="3.95" fill="none" stroke="#000" stroke-width="2.1"/>
<circle cx="1132.50" cy="586.00" r="3.95" fill="none" stroke="#000" stroke-width="2.1"/>
<circle cx="1127.50" cy="581.00" r="3.95" fill="none" stroke="#000" stroke-width="2.1"/>
<circle cx="1132.50" cy="581.00" r="3.95" fill="none" stroke="#000" stroke-width="2.1"/>
<circle cx="1127.50" cy="576.00" r="3.95" fill="none" stroke="#000" stroke-width="2.1"/>
<circle cx="1132.50" cy="576.00" r="3.95" fill="none" stroke="#000" stroke-width="2.1"/>
<circle cx="1130.00" cy="446.50" r="3.95" fill="none" stroke="#000" stroke-width="2.1"/>
<circle cx="1130.00" cy="556.40" r="3.95" fill="none" stroke="#000" stroke-width="2.1"/>
<circle cx="1162.40" cy="570.00" r="5.0" fill="#000"/>
<circle cx="1167.40" cy="570.00" r="5.0" fill="#000"/>
<circle cx="1162.40" cy="564.00" r="5.0" fill="#000"/>
<circle cx="1167.40" cy="564.00" r="5.0" fill="#000"/>
<circle cx="1164.90" cy="517.60" r="5.0" fill="#000"/>
<circle cx="1161.30" cy="556.50" r="5.0" fill="#000"/>
<circle cx="1168.90" cy="555.50" r="5.0" fill="#000"/>
<circle cx="1164.90" cy="585.70" r="5.0" fill="#000"/>
<circle cx="1164.90" cy="599.00" r="5.0" fill="#000"/>
<circle cx="1183.70" cy="582.00" r="5.0" fill="#000"/>
<circle cx="1188.70" cy="582.00" r="5.0" fill="#000"/>
<circle cx="1183.70" cy="576.00" r="5.0" fill="#000"/>
<circle cx="1188.70" cy="576.00" r="5.0" fill="#000"/>
<circle cx="1186.20" cy="539.10" r="5.0" fill="#000"/>
<circle cx="1187.40" cy="549.90" r="5.0" fill="#000"/>
<circle cx="1183.30" cy="557.40" r="5.0" fill="#000"/>
<circle cx="1186.20" cy="599.00" r="5.0" fill="#000"/>
<circle cx="1204.40" cy="586.00" r="5.0" fill="#000"/>
<circle cx="1209.40" cy="586.00" r="5.0" fill="#000"/>
<circle cx="1204.40" cy="580.00" r="5.0" fill="#000"/>
<circle cx="1209.40" cy="580.00" r="5.0" fill="#000"/>
<circle cx="1204.40" cy="574.00" r="5.0" fill="#000"/>
<circle cx="1209.40" cy="574.00" r="5.0" fill="#000"/>
<circle cx="1206.90" cy="537.40" r="5.0" fill="#000"/>
<circle cx="1206.90" cy="556.60" r="5.0" fill="#000"/>
<circle cx="1225.00" cy="586.00" r="5.0" fill="#000"/>
<circle cx="1230.00" cy="586.00" r="5.0" fill="#000"/>
<circle cx="1225.00" cy="580.00" r="5.0" fill="#000"/>
<circle cx="1230.00" cy="580.00" r="5.0" fill="#000"/>
<circle cx="1225.00" cy="574.00" r="5.0" fill="#000"/>
<circle cx="1230.00" cy="574.00" r="5.0" fill="#000"/>
<circle cx="1225.00" cy="568.00" r="5.0" fill="#000"/>
<circle cx="1230.00" cy="568.00" r="5.0" fill="#000"/>
<circle cx="1225.00" cy="562.00" r="5.0" fill="#000"/>
<circle cx="1230.00" cy="562.00" r="5.0" fill="#000"/>
<circle cx="1225.00" cy="556.00" r="5.0" fill="#000"/>
<circle cx="1230.00" cy="556.00" r="5.0" fill="#000"/>
<circle cx="1227.50" cy="469.30" r="5.0" fill="#000"/>
<circle cx="1227.50" cy="540.00" r="5.0" fill="#000"/>
<line x1="1044.70" y1="611.20" x2="1244.00" y2="611.20" stroke="#000" stroke-width="2.6" stroke-linecap="butt"/>
<line x1="1067.10" y1="611.20" x2="1067.10" y2="618.70" stroke="#000" stroke-width="2.6" stroke-linecap="butt"/>
<line x1="1087.80" y1="611.20" x2="1087.80" y2="618.70" stroke="#000" stroke-width="2.6" stroke-linecap="butt"/>
<line x1="1109.00" y1="611.20" x2="1109.00" y2="618.70" stroke="#000" stroke-width="2.6" stroke-linecap="butt"/>
<line x1="1130.00" y1="611.20" x2="1130.00" y2="618.70" stroke="#000" stroke-width="2.6" stroke-linecap="butt"/>
<line x1="1164.90" y1="611.20" x2="1164.90" y2="618.70" stroke="#000" stroke-width="2.6" stroke-linecap="butt"/>
<line x1="1186.20" y1="611.20" x2="1186.20" y2="618.70" stroke="#000" stroke-width="2.6" stroke-linecap="butt"/>
<line x1="1206.90" y1="611.20" x2="1206.90" y2="618.70" stroke="#000" stroke-width="2.6" stroke-linecap="butt"/>
<line x1="1227.50" y1="611.20" x2="1227.50" y2="618.70" stroke="#000" stroke-width="2.6" stroke-linecap="butt"/>
<text x="1072.10" y="628.50" font-size="16" text-anchor="end" transform="translate(1072.10 628.50) rotate(-45) scale(1 1.07) translate(-1072.10 -628.50)">Ctrl</text>
<text x="1095.40" y="628.60" font-size="16" text-anchor="end" transform="translate(1095.40 628.60) rotate(-45) scale(1 1.07) translate(-1095.40 -628.60)">EtOH</text>
<text x="1118.70" y="627.00" font-size="16" text-anchor="end" transform="translate(1118.70 627.00) rotate(-45) scale(1 1.07) translate(-1118.70 -627.00)">Dic</text>
<text x="1142.50" y="627.90" font-size="16" text-anchor="end" transform="translate(1142.50 627.90) rotate(-45) scale(1 1.07) translate(-1142.50 -627.90)">AEA</text>
<text x="1169.90" y="628.50" font-size="16" text-anchor="end" transform="translate(1169.90 628.50) rotate(-45) scale(1 1.07) translate(-1169.90 -628.50)">Ctrl</text>
<text x="1193.80" y="628.60" font-size="16" text-anchor="end" transform="translate(1193.80 628.60) rotate(-45) scale(1 1.07) translate(-1193.80 -628.60)">EtOH</text>
<text x="1216.60" y="627.00" font-size="16" text-anchor="end" transform="translate(1216.60 627.00) rotate(-45) scale(1 1.07) translate(-1216.60 -627.00)">Dic</text>
<text x="1240.00" y="627.90" font-size="16" text-anchor="end" transform="translate(1240.00 627.90) rotate(-45) scale(1 1.07) translate(-1240.00 -627.90)">AEA</text>
<line x1="1144.00" y1="666.00" x2="1244.10" y2="666.00" stroke="#000" stroke-width="3.8" stroke-linecap="butt"/>
<text x="1142.20" y="684.80" font-size="20.8" text-anchor="start" transform="translate(1142.20 684.80) scale(1 1.07) translate(-1142.20 -684.80)">+ Zymosan</text>
<text x="976.80" y="506.10" font-size="20.8" text-anchor="middle" transform="translate(976.80 506.10) rotate(-90) scale(1 1.07) translate(-976.80 -506.10)">CCL17(pg/ml)</text>
<text x="1142.30" y="402.20" font-size="20.2" text-anchor="middle" font-weight="bold" transform="translate(1142.30 402.20) scale(1 1.1) translate(-1142.30 -402.20)">CCL17</text>
<line x1="1386.40" y1="422.40" x2="1386.40" y2="612.70" stroke="#000" stroke-width="2.6" stroke-linecap="butt"/>
<line x1="1377.40" y1="611.40" x2="1386.40" y2="611.40" stroke="#000" stroke-width="2.6" stroke-linecap="butt"/>
<text x="1375.60" y="617.31" font-size="20.8" text-anchor="end" transform="translate(1375.60 617.31) scale(1 1.07) translate(-1375.60 -617.31)">0</text>
<line x1="1377.40" y1="564.48" x2="1386.40" y2="564.48" stroke="#000" stroke-width="2.6" stroke-linecap="butt"/>
<text x="1375.60" y="570.38" font-size="20.8" text-anchor="end" transform="translate(1375.60 570.38) scale(1 1.07) translate(-1375.60 -570.38)">1</text>
<line x1="1377.40" y1="517.55" x2="1386.40" y2="517.55" stroke="#000" stroke-width="2.6" stroke-linecap="butt"/>
<text x="1375.60" y="523.46" font-size="20.8" text-anchor="end" transform="translate(1375.60 523.46) scale(1 1.07) translate(-1375.60 -523.46)">2</text>
<line x1="1377.40" y1="470.62" x2="1386.40" y2="470.62" stroke="#000" stroke-width="2.6" stroke-linecap="butt"/>
<text x="1375.60" y="476.53" font-size="20.8" text-anchor="end" transform="translate(1375.60 476.53) scale(1 1.07) translate(-1375.60 -476.53)">3</text>
<line x1="1377.40" y1="423.70" x2="1386.40" y2="423.70" stroke="#000" stroke-width="2.6" stroke-linecap="butt"/>
<text x="1375.60" y="429.61" font-size="20.8" text-anchor="end" transform="translate(1375.60 429.61) scale(1 1.07) translate(-1375.60 -429.61)">4</text>
<rect x="1398.65" y="556.20" width="24.10" height="54.00" fill="#d4d4d4" stroke="#000" stroke-width="2.4"/>
<rect x="1436.55" y="564.70" width="24.10" height="45.50" fill="#a09fa4" stroke="#000" stroke-width="2.4"/>
<rect x="1473.95" y="567.20" width="24.10" height="43.00" fill="#808080" stroke="#000" stroke-width="2.4"/>
<line x1="1410.70" y1="569.00" x2="1410.70" y2="541.00" stroke="#000" stroke-width="2.4" stroke-linecap="butt"/>
<line x1="1404.70" y1="541.00" x2="1416.70" y2="541.00" stroke="#000" stroke-width="2.4" stroke-linecap="butt"/>
<line x1="1404.70" y1="569.00" x2="1416.70" y2="569.00" stroke="#000" stroke-width="2.4" stroke-linecap="butt"/>
<line x1="1486.00" y1="570.00" x2="1486.00" y2="562.00" stroke="#000" stroke-width="2.4" stroke-linecap="butt"/>
<line x1="1480.00" y1="562.00" x2="1492.00" y2="562.00" stroke="#000" stroke-width="2.4" stroke-linecap="butt"/>
<line x1="1480.00" y1="570.00" x2="1492.00" y2="570.00" stroke="#000" stroke-width="2.4" stroke-linecap="butt"/>
<circle cx="1410.70" cy="474.10" r="4.4" fill="#000"/>
<circle cx="1401.70" cy="562.40" r="4.4" fill="#000"/>
<circle cx="1407.70" cy="560.00" r="4.4" fill="#000"/>
<circle cx="1413.70" cy="568.50" r="4.4" fill="#000"/>
<circle cx="1420.20" cy="563.70" r="4.4" fill="#000"/>
<circle cx="1410.70" cy="590.50" r="4.4" fill="#000"/>
<circle cx="1440.60" cy="563.50" r="4.4" fill="#000"/>
<circle cx="1444.60" cy="563.50" r="4.4" fill="#000"/>
<circle cx="1448.60" cy="563.50" r="4.4" fill="#000"/>
<circle cx="1452.60" cy="563.50" r="4.4" fill="#000"/>
<circle cx="1456.60" cy="563.50" r="4.4" fill="#000"/>
<circle cx="1483.00" cy="562.40" r="4.4" fill="#000"/>
<circle cx="1496.00" cy="563.70" r="4.4" fill="#000"/>
<circle cx="1490.00" cy="559.00" r="4.4" fill="#000"/>
<circle cx="1476.50" cy="576.60" r="4.4" fill="#000"/>
<circle cx="1489.00" cy="574.40" r="4.4" fill="#000"/>
<circle cx="1478.00" cy="566.00" r="4.4" fill="#000"/>
<line x1="1377.40" y1="611.40" x2="1512.00" y2="611.40" stroke="#000" stroke-width="2.6" stroke-linecap="butt"/>
<line x1="1410.70" y1="611.40" x2="1410.70" y2="618.90" stroke="#000" stroke-width="2.6" stroke-linecap="butt"/>
<line x1="1448.60" y1="611.40" x2="1448.60" y2="618.90" stroke="#000" stroke-width="2.6" stroke-linecap="butt"/>
<line x1="1486.00" y1="611.40" x2="1486.00" y2="618.90" stroke="#000" stroke-width="2.6" stroke-linecap="butt"/>
<text x="1422.50" y="632.90" font-size="20.8" text-anchor="end" transform="translate(1422.50 632.90) rotate(-45) scale(1 1.07) translate(-1422.50 -632.90)">EtOH</text>
<text x="1456.90" y="631.60" font-size="20.8" text-anchor="end" transform="translate(1456.90 631.60) rotate(-45) scale(1 1.07) translate(-1456.90 -631.60)">Dic</text>
<text x="1499.05" y="633.20" font-size="20.8" text-anchor="end" transform="translate(1499.05 633.20) rotate(-45) scale(1 1.07) translate(-1499.05 -633.20)">AEA</text>
<text x="1309.60" y="525.20" font-size="20.8" text-anchor="middle" transform="translate(1309.60 525.20) rotate(-90) scale(1 1.07) translate(-1309.60 -525.20)">CCL17(Norm. to Dic)</text>
<text x="1450.00" y="403.00" font-size="20.2" text-anchor="middle" font-weight="bold" transform="translate(1450.00 403.00) scale(1 1.1) translate(-1450.00 -403.00)">CCL17</text>
<line x1="1451.10" y1="488.50" x2="1493.80" y2="488.50" stroke="#000" stroke-width="2.2" stroke-linecap="round"/>
<text x="1455.88" y="491.10" font-size="15" letter-spacing="1.48" font-weight="bold" font-family="DejaVu Sans" style="font-family:'DejaVu Sans'">****</text>
<line x1="1645.70" y1="423.30" x2="1645.70" y2="614.40" stroke="#000" stroke-width="2.6" stroke-linecap="butt"/>
<line x1="1636.70" y1="613.10" x2="1645.70" y2="613.10" stroke="#000" stroke-width="2.6" stroke-linecap="butt"/>
<text x="1635.80" y="620.41" font-size="20.8" text-anchor="end" transform="translate(1635.80 620.41) scale(1 1.07) translate(-1635.80 -620.41)">0.0</text>
<line x1="1636.70" y1="575.40" x2="1645.70" y2="575.40" stroke="#000" stroke-width="2.6" stroke-linecap="butt"/>
<text x="1635.80" y="582.71" font-size="20.8" text-anchor="end" transform="translate(1635.80 582.71) scale(1 1.07) translate(-1635.80 -582.71)">0.5</text>
<line x1="1636.70" y1="537.70" x2="1645.70" y2="537.70" stroke="#000" stroke-width="2.6" stroke-linecap="butt"/>
<text x="1635.80" y="545.01" font-size="20.8" text-anchor="end" transform="translate(1635.80 545.01) scale(1 1.07) translate(-1635.80 -545.01)">1.0</text>
<line x1="1636.70" y1="500.00" x2="1645.70" y2="500.00" stroke="#000" stroke-width="2.6" stroke-linecap="butt"/>
<text x="1635.80" y="507.31" font-size="20.8" text-anchor="end" transform="translate(1635.80 507.31) scale(1 1.07) translate(-1635.80 -507.31)">1.5</text>
<line x1="1636.70" y1="462.30" x2="1645.70" y2="462.30" stroke="#000" stroke-width="2.6" stroke-linecap="butt"/>
<text x="1635.80" y="469.61" font-size="20.8" text-anchor="end" transform="translate(1635.80 469.61) scale(1 1.07) translate(-1635.80 -469.61)">2.0</text>
<line x1="1636.70" y1="424.60" x2="1645.70" y2="424.60" stroke="#000" stroke-width="2.6" stroke-linecap="butt"/>
<text x="1635.80" y="431.91" font-size="20.8" text-anchor="end" transform="translate(1635.80 431.91) scale(1 1.07) translate(-1635.80 -431.91)">2.5</text>
<rect x="1658.35" y="537.60" width="24.10" height="74.30" fill="#d4d4d4" stroke="#000" stroke-width="2.4"/>
<rect x="1695.75" y="531.40" width="24.10" height="80.50" fill="#a09fa4" stroke="#000" stroke-width="2.4"/>
<rect x="1733.15" y="542.40" width="24.10" height="69.50" fill="#808080" stroke="#000" stroke-width="2.4"/>
<line x1="1707.80" y1="547.90" x2="1707.80" y2="515.70" stroke="#000" stroke-width="2.4" stroke-linecap="butt"/>
<line x1="1701.80" y1="515.70" x2="1713.80" y2="515.70" stroke="#000" stroke-width="2.4" stroke-linecap="butt"/>
<line x1="1701.80" y1="547.90" x2="1713.80" y2="547.90" stroke="#000" stroke-width="2.4" stroke-linecap="butt"/>
<line x1="1745.20" y1="552.70" x2="1745.20" y2="530.50" stroke="#000" stroke-width="2.4" stroke-linecap="butt"/>
<line x1="1739.20" y1="530.50" x2="1751.20" y2="530.50" stroke="#000" stroke-width="2.4" stroke-linecap="butt"/>
<line x1="1739.20" y1="552.70" x2="1751.20" y2="552.70" stroke="#000" stroke-width="2.4" stroke-linecap="butt"/>
<circle cx="1662.40" cy="536.40" r="4.4" fill="#000"/>
<circle cx="1666.40" cy="536.40" r="4.4" fill="#000"/>
<circle cx="1670.40" cy="536.40" r="4.4" fill="#000"/>
<circle cx="1674.40" cy="536.40" r="4.4" fill="#000"/>
<circle cx="1678.40" cy="536.40" r="4.4" fill="#000"/>
<circle cx="1707.80" cy="445.50" r="4.4" fill="#000"/>
<circle cx="1707.80" cy="530.50" r="4.4" fill="#000"/>
<circle cx="1698.30" cy="538.50" r="4.4" fill="#000"/>
<circle cx="1707.80" cy="537.20" r="4.4" fill="#000"/>
<circle cx="1717.00" cy="538.50" r="4.4" fill="#000"/>
<circle cx="1707.80" cy="545.20" r="4.4" fill="#000"/>
<circle cx="1707.80" cy="587.50" r="4.4" fill="#000"/>
<circle cx="1745.20" cy="483.00" r="4.4" fill="#000"/>
<circle cx="1740.40" cy="538.50" r="4.4" fill="#000"/>
<circle cx="1750.60" cy="538.50" r="4.4" fill="#000"/>
<circle cx="1735.60" cy="547.90" r="4.4" fill="#000"/>
<circle cx="1754.30" cy="548.40" r="4.4" fill="#000"/>
<circle cx="1745.20" cy="551.90" r="4.4" fill="#000"/>
<circle cx="1745.20" cy="586.70" r="4.4" fill="#000"/>
<line x1="1636.70" y1="613.10" x2="1771.00" y2="613.10" stroke="#000" stroke-width="2.6" stroke-linecap="butt"/>
<line x1="1670.40" y1="613.10" x2="1670.40" y2="620.60" stroke="#000" stroke-width="2.6" stroke-linecap="butt"/>
<line x1="1707.80" y1="613.10" x2="1707.80" y2="620.60" stroke="#000" stroke-width="2.6" stroke-linecap="butt"/>
<line x1="1745.20" y1="613.10" x2="1745.20" y2="620.60" stroke="#000" stroke-width="2.6" stroke-linecap="butt"/>
<text x="1682.60" y="632.90" font-size="20.8" text-anchor="end" transform="translate(1682.60 632.90) rotate(-45) scale(1 1.07) translate(-1682.60 -632.90)">EtOH</text>
<text x="1717.00" y="631.90" font-size="20.8" text-anchor="end" transform="translate(1717.00 631.90) rotate(-45) scale(1 1.07) translate(-1717.00 -631.90)">Dic</text>
<text x="1759.15" y="633.80" font-size="20.8" text-anchor="end" transform="translate(1759.15 633.80) rotate(-45) scale(1 1.07) translate(-1759.15 -633.80)">AEA</text>
<text x="1568.60" y="519.50" font-size="20.8" text-anchor="middle" transform="translate(1568.60 519.50) rotate(-90) scale(1 1.07) translate(-1568.60 -519.50)">CCL17 (Norm. to EtOH)</text>
<text x="1711.30" y="400.70" font-size="20.2" text-anchor="middle" font-weight="bold" transform="translate(1711.30 400.70) scale(1 1.1) translate(-1711.30 -400.70)">CCL17</text>
</svg></body></html>
